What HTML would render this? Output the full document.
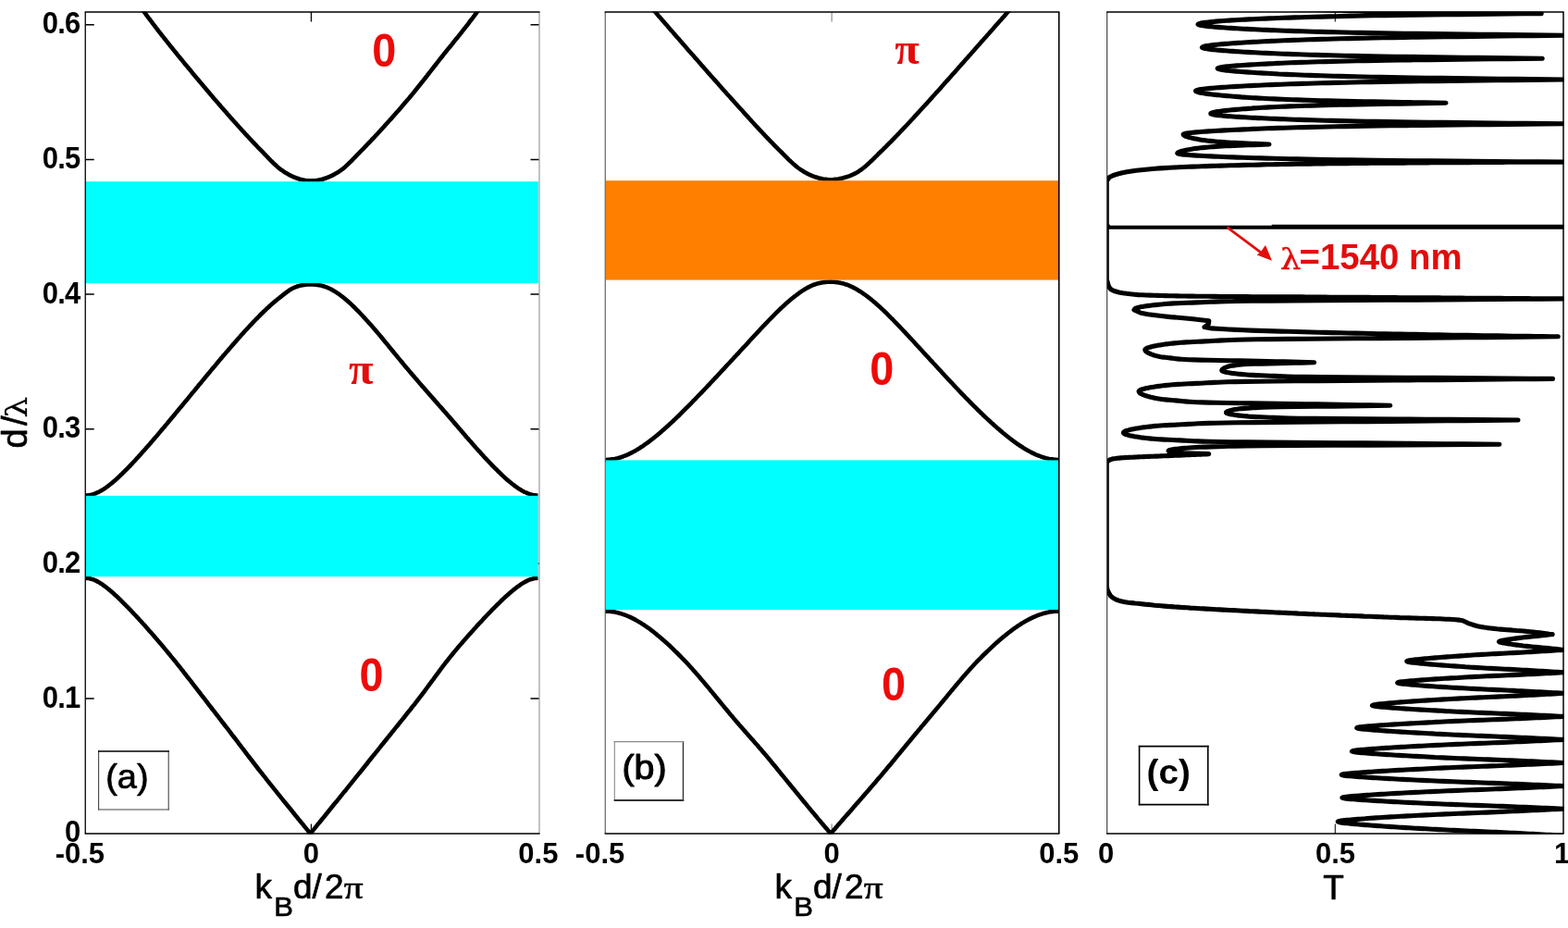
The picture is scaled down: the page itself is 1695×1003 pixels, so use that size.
<!DOCTYPE html>
<html lang="en"><head><meta charset="utf-8"><title>Band structure and transmission</title>
<style>html,body{margin:0;padding:0;background:#fff;overflow:hidden}svg{display:block}</style></head>
<body>
<svg width="1695" height="1003" viewBox="0 0 1695 1003" role="img" aria-label="Band structures (a), (b) and transmission spectrum (c)">
<defs>
<clipPath id="clipa"><rect x="91.75" y="12.5" width="491.75" height="889.0"/></clipPath>
<clipPath id="clipb"><rect x="653.75" y="12.5" width="491.5" height="889.0"/></clipPath>
<clipPath id="clipc"><rect x="1196.2" y="12.5" width="494.29999999999995" height="889.0"/></clipPath>
</defs>
<rect width="1695" height="1003" fill="#fff"/>
<path d="M92.25,755h9.5M583.0,755h-9.5" stroke="#000" stroke-width="1.5" fill="none"/>
<path d="M92.25,609.3h9.5M583.0,609.3h-9.5" stroke="#000" stroke-width="1.5" fill="none"/>
<path d="M92.25,463.7h9.5M583.0,463.7h-9.5" stroke="#000" stroke-width="1.5" fill="none"/>
<path d="M92.25,318h9.5M583.0,318h-9.5" stroke="#000" stroke-width="1.5" fill="none"/>
<path d="M92.25,172.4h9.5M583.0,172.4h-9.5" stroke="#000" stroke-width="1.5" fill="none"/>
<path d="M92.25,26.8h9.5M583.0,26.8h-9.5" stroke="#000" stroke-width="1.5" fill="none"/>
<path d="M336.4,901.0v-10.5M336.4,13.0v10.5" stroke="#000" stroke-width="1.2" fill="none"/>
<g clip-path="url(#clipa)" stroke="#000" stroke-width="4.6" fill="none" stroke-linejoin="round">
<path d="M92.5,624.8 L94,624.9 L95.5,625 L97,625.3 L98.5,625.7 L100,626.1 L101.5,626.7 L103.1,627.3 L104.6,628.1 L106.1,628.9 L107.6,629.8 L109.1,630.7 L110.6,631.7 L112.1,632.8 L113.6,633.9 L115.1,635 L116.6,636.2 L118.1,637.4 L119.6,638.7 L121.1,640 L122.6,641.3 L124.1,642.7 L125.6,644 L127.1,645.4 L128.6,646.9 L130.1,648.3 L131.6,649.8 L133.1,651.3 L134.6,652.8 L136.1,654.3 L137.6,655.8 L139.1,657.4 L140.6,658.9 L142.1,660.5 L143.6,662.1 L145.1,663.7 L146.6,665.3 L148.1,666.9 L149.6,668.5 L151.1,670.2 L152.6,671.8 L154.1,673.5 L155.6,675.1 L157.1,676.8 L158.6,678.5 L160.1,680.2 L161.6,681.9 L163.1,683.6 L164.6,685.3 L166.1,687 L167.6,688.8 L169.1,690.5 L170.6,692.3 L172.1,694 L173.6,695.8 L175.1,697.5 L176.6,699.3 L178.1,701.1 L179.6,702.9 L181.1,704.7 L182.6,706.5 L184.1,708.3 L185.5,710.1 L187,711.9 L188.5,713.7 L190,715.5 L191.4,717.4 L192.9,719.2 L194.4,721 L195.8,722.9 L197.3,724.7 L198.7,726.6 L200.2,728.5 L201.6,730.3 L203.1,732.2 L204.6,734.1 L206,735.9 L207.5,737.8 L208.9,739.7 L210.4,741.6 L211.9,743.5 L213.3,745.4 L214.8,747.3 L216.3,749.2 L217.7,751.1 L219.2,753 L220.7,754.9 L222.2,756.8 L223.6,758.7 L225.1,760.7 L226.6,762.6 L228.1,764.5 L229.6,766.5 L231.1,768.4 L232.6,770.3 L234.1,772.3 L235.6,774.2 L237.1,776.2 L238.6,778.1 L240.1,780.1 L241.6,782 L243.1,784 L244.6,785.9 L246.2,787.9 L247.7,789.9 L249.2,791.8 L250.7,793.8 L252.2,795.8 L253.7,797.7 L255.2,799.7 L256.7,801.7 L258.2,803.7 L259.7,805.6 L261.2,807.6 L262.8,809.6 L264.3,811.6 L265.8,813.6 L267.3,815.6 L268.8,817.5 L270.3,819.5 L271.9,821.5 L273.4,823.5 L274.9,825.5 L276.5,827.5 L278,829.5 L279.5,831.5 L281.1,833.5 L282.7,835.4 L284.2,837.4 L285.8,839.4 L287.4,841.4 L288.9,843.4 L290.5,845.4 L292.1,847.4 L293.7,849.4 L295.3,851.4 L296.9,853.4 L298.5,855.4 L300.1,857.4 L301.7,859.4 L303.3,861.4 L304.9,863.4 L306.5,865.4 L308.1,867.3 L309.7,869.3 L311.3,871.3 L313,873.3 L314.6,875.3 L316.2,877.3 L317.8,879.3 L319.4,881.3 L321,883.2 L322.6,885.2 L324.3,887.2 L325.9,889.2 L327.5,891.1 L329.1,893.1 L330.7,895.1 L332.3,897.1 L333.9,899 L335.5,901 L337.1,899 L338.7,897.1 L340.3,895.1 L341.9,893.1 L343.5,891.1 L345.1,889.2 L346.7,887.2 L348.3,885.2 L350,883.2 L351.6,881.3 L353.2,879.3 L354.8,877.3 L356.4,875.3 L358,873.3 L359.6,871.3 L361.2,869.3 L362.9,867.3 L364.5,865.4 L366.1,863.4 L367.7,861.4 L369.3,859.4 L370.9,857.4 L372.5,855.4 L374.2,853.4 L375.8,851.4 L377.4,849.4 L379,847.4 L380.6,845.4 L382.2,843.4 L383.8,841.4 L385.4,839.4 L387,837.4 L388.6,835.4 L390.2,833.5 L391.8,831.5 L393.4,829.5 L395,827.5 L396.6,825.5 L398.1,823.5 L399.7,821.5 L401.3,819.5 L402.9,817.5 L404.5,815.6 L406.1,813.6 L407.7,811.6 L409.3,809.6 L410.9,807.6 L412.4,805.6 L414,803.7 L415.6,801.7 L417.2,799.7 L418.8,797.7 L420.4,795.8 L422,793.8 L423.5,791.8 L425.1,789.9 L426.7,787.9 L428.3,785.9 L429.9,784 L431.4,782 L433,780.1 L434.6,778.1 L436.1,776.2 L437.7,774.2 L439.2,772.3 L440.8,770.3 L442.3,768.4 L443.9,766.5 L445.4,764.5 L447,762.6 L448.5,760.7 L450,758.7 L451.5,756.8 L452.9,754.9 L454.4,753 L455.8,751.1 L457.3,749.2 L458.7,747.3 L460.1,745.4 L461.5,743.5 L462.9,741.6 L464.3,739.7 L465.7,737.8 L467.1,735.9 L468.5,734.1 L469.8,732.2 L471.2,730.3 L472.6,728.5 L474,726.6 L475.4,724.7 L476.7,722.9 L478.1,721 L479.5,719.2 L480.9,717.4 L482.3,715.5 L483.8,713.7 L485.2,711.9 L486.6,710.1 L488.1,708.3 L489.5,706.5 L491,704.7 L492.5,702.9 L494,701.1 L495.5,699.3 L497.1,697.5 L498.6,695.8 L500.1,694 L501.6,692.3 L503.2,690.5 L504.7,688.8 L506.2,687 L507.7,685.3 L509.3,683.6 L510.8,681.9 L512.3,680.2 L513.9,678.5 L515.4,676.8 L516.9,675.1 L518.4,673.5 L520,671.8 L521.5,670.2 L523,668.5 L524.6,666.9 L526.1,665.3 L527.6,663.7 L529.2,662.1 L530.7,660.5 L532.2,658.9 L533.8,657.4 L535.3,655.8 L536.8,654.3 L538.4,652.8 L539.9,651.3 L541.4,649.8 L543,648.3 L544.5,646.9 L546,645.4 L547.6,644 L549.1,642.7 L550.7,641.3 L552.2,640 L553.7,638.7 L555.3,637.4 L556.8,636.2 L558.3,635 L559.9,633.9 L561.4,632.8 L563,631.7 L564.5,630.7 L566.1,629.8 L567.6,628.9 L569.1,628.1 L570.7,627.3 L572.2,626.7 L573.8,626.1 L575.3,625.7 L576.9,625.3 L578.4,625 L580,624.9 L581.5,624.8"/>
<path d="M92.5,535.5 L94,535.5 L95.5,535.3 L97,535.1 L98.6,534.8 L100.1,534.4 L101.6,533.9 L103.1,533.4 L104.6,532.7 L106.1,532 L107.6,531.3 L109.1,530.4 L110.7,529.5 L112.2,528.6 L113.7,527.6 L115.2,526.5 L116.7,525.4 L118.2,524.2 L119.7,523 L121.3,521.8 L122.8,520.5 L124.3,519.2 L125.8,517.9 L127.3,516.5 L128.8,515.1 L130.3,513.6 L131.9,512.2 L133.4,510.7 L134.9,509.2 L136.4,507.7 L137.9,506.1 L139.4,504.6 L141,503 L142.5,501.4 L144,499.8 L145.5,498.2 L147,496.5 L148.5,494.9 L150,493.2 L151.6,491.5 L153.1,489.8 L154.6,488.1 L156.1,486.4 L157.6,484.7 L159.1,483 L160.7,481.2 L162.2,479.5 L163.7,477.7 L165.2,476 L166.7,474.2 L168.2,472.5 L169.8,470.7 L171.3,468.9 L172.8,467.1 L174.3,465.3 L175.8,463.5 L177.4,461.7 L178.9,459.9 L180.4,458.1 L181.9,456.3 L183.4,454.5 L184.9,452.6 L186.5,450.8 L188,449 L189.5,447.1 L191,445.3 L192.5,443.5 L194.1,441.6 L195.6,439.8 L197.1,438 L198.6,436.1 L200.1,434.3 L201.7,432.4 L203.2,430.6 L204.7,428.7 L206.2,426.9 L207.7,425 L209.3,423.2 L210.8,421.4 L212.3,419.5 L213.8,417.7 L215.3,415.8 L216.9,414 L218.4,412.1 L219.9,410.3 L221.4,408.5 L222.9,406.6 L224.5,404.8 L226,403 L227.5,401.1 L229,399.3 L230.5,397.5 L232.1,395.7 L233.6,393.9 L235.1,392 L236.6,390.2 L238.1,388.4 L239.7,386.6 L241.2,384.8 L242.7,383.1 L244.2,381.3 L245.8,379.5 L247.3,377.7 L248.8,376 L250.3,374.2 L251.9,372.4 L253.4,370.7 L254.9,369 L256.4,367.2 L257.9,365.5 L259.5,363.8 L261,362.1 L262.5,360.4 L264,358.7 L265.6,357 L267.1,355.4 L268.6,353.7 L270.1,352.1 L271.7,350.5 L273.2,348.9 L274.7,347.3 L276.2,345.7 L277.8,344.1 L279.3,342.6 L280.8,341 L282.3,339.5 L283.9,338 L285.4,336.5 L286.9,335.1 L288.4,333.6 L290,332.2 L291.5,330.8 L293,329.4 L294.5,328.1 L296.1,326.8 L297.6,325.5 L299.1,324.2 L300.6,323 L302.2,321.8 L303.7,320.6 L305.1,319.5 L306.5,318.4 L307.8,317.4 L309.1,316.4 L310.4,315.4 L311.7,314.5 L312.9,313.6 L314.3,312.8 L315.6,312 L317,311.3 L318.5,310.7 L320,310.1 L321.6,309.5 L323.3,309 L325,308.6 L326.8,308.2 L328.6,307.9 L330.4,307.7 L332.2,307.5 L334,307.4 L335.8,307.4 L337.5,307.4 L339.4,307.5 L341.2,307.7 L343.1,307.9 L344.9,308.2 L346.8,308.6 L348.6,309 L350.3,309.5 L352,310.1 L353.5,310.7 L355.1,311.3 L356.6,312 L358.1,312.8 L359.6,313.6 L361.1,314.5 L362.6,315.4 L364.1,316.4 L365.6,317.4 L367.1,318.4 L368.5,319.5 L370,320.6 L371.5,321.8 L373,323 L374.4,324.2 L375.9,325.5 L377.3,326.8 L378.8,328.1 L380.2,329.4 L381.6,330.8 L383.1,332.2 L384.5,333.6 L385.9,335.1 L387.4,336.5 L388.8,338 L390.2,339.5 L391.6,341 L393.1,342.6 L394.5,344.1 L395.9,345.7 L397.4,347.3 L398.8,348.9 L400.3,350.5 L401.7,352.1 L403.1,353.7 L404.6,355.4 L406,357 L407.4,358.7 L408.8,360.4 L410.2,362.1 L411.7,363.8 L413.1,365.5 L414.5,367.2 L415.9,369 L417.4,370.7 L418.8,372.4 L420.2,374.2 L421.7,376 L423.1,377.7 L424.6,379.5 L426,381.3 L427.5,383.1 L428.9,384.8 L430.4,386.6 L431.9,388.4 L433.4,390.2 L434.9,392 L436.4,393.9 L437.9,395.7 L439.4,397.5 L441,399.3 L442.5,401.1 L444.1,403 L445.6,404.8 L447.2,406.6 L448.8,408.5 L450.4,410.3 L451.9,412.1 L453.5,414 L455.1,415.8 L456.7,417.7 L458.4,419.5 L460,421.4 L461.6,423.2 L463.2,425 L464.8,426.9 L466.4,428.7 L468.1,430.6 L469.7,432.4 L471.3,434.3 L472.9,436.1 L474.5,438 L476.2,439.8 L477.8,441.6 L479.4,443.5 L481,445.3 L482.6,447.1 L484.2,449 L485.8,450.8 L487.4,452.6 L489,454.5 L490.5,456.3 L492.1,458.1 L493.7,459.9 L495.2,461.7 L496.7,463.5 L498.3,465.3 L499.8,467.1 L501.4,468.9 L502.9,470.7 L504.4,472.5 L506,474.2 L507.5,476 L509.1,477.7 L510.6,479.5 L512.1,481.2 L513.7,483 L515.2,484.7 L516.7,486.4 L518.3,488.1 L519.8,489.8 L521.4,491.5 L522.9,493.2 L524.4,494.9 L526,496.5 L527.5,498.2 L529.1,499.8 L530.6,501.4 L532.1,503 L533.7,504.6 L535.2,506.1 L536.8,507.7 L538.3,509.2 L539.9,510.7 L541.4,512.2 L542.9,513.6 L544.5,515.1 L546,516.5 L547.6,517.9 L549.1,519.2 L550.6,520.5 L552.2,521.8 L553.7,523 L555.3,524.2 L556.8,525.4 L558.4,526.5 L559.9,527.6 L561.4,528.6 L563,529.5 L564.5,530.4 L566.1,531.3 L567.6,532 L569.2,532.7 L570.7,533.4 L572.2,533.9 L573.8,534.4 L575.3,534.8 L576.9,535.1 L578.4,535.3 L580,535.5 L581.5,535.5"/>
<path d="M131.8,-39.2 L133,-36 L134.3,-34.2 L135.6,-37.3 L136.9,-51.8 L138.1,-15.5 L139.4,-13 L140.7,-10.6 L141.9,-8.3 L143.2,-6.2 L144.5,-4.1 L145.7,-2 L147,-0 L148.3,1.9 L149.6,3.8 L150.8,5.7 L152.1,7.5 L153.4,9.3 L154.6,11.1 L155.9,12.9 L157.2,14.7 L158.4,16.4 L159.7,18.1 L161,19.8 L162.3,21.5 L163.5,23.2 L164.8,24.9 L166.1,26.6 L167.3,28.2 L168.6,29.9 L169.9,31.5 L171.1,33.1 L172.4,34.8 L173.7,36.4 L174.9,38 L176.2,39.6 L177.5,41.2 L178.7,42.8 L180,44.4 L181.3,46 L182.6,47.6 L183.8,49.2 L185.1,50.8 L186.4,52.3 L187.6,53.9 L188.9,55.5 L190.2,57 L191.4,58.6 L192.7,60.2 L194,61.7 L195.2,63.3 L196.5,64.8 L197.8,66.4 L199,67.9 L200.3,69.5 L201.6,71 L202.9,72.5 L204.1,74.1 L205.4,75.6 L206.7,77.1 L207.9,78.7 L209.2,80.2 L210.5,81.7 L211.7,83.2 L213,84.7 L214.3,86.2 L215.5,87.8 L216.8,89.3 L218.1,90.8 L219.3,92.3 L220.6,93.8 L221.9,95.3 L223.1,96.8 L224.4,98.3 L225.7,99.8 L226.9,101.2 L228.2,102.7 L229.5,104.2 L230.7,105.7 L232,107.2 L233.3,108.6 L234.5,110.1 L235.8,111.6 L237.1,113 L238.3,114.5 L239.6,116 L240.9,117.4 L242.1,118.9 L243.4,120.3 L244.7,121.7 L245.9,123.2 L247.2,124.6 L248.5,126 L249.7,127.5 L251,128.9 L252.2,130.3 L253.5,131.7 L254.8,133.1 L256,134.5 L257.3,135.9 L258.5,137.3 L259.8,138.7 L261,140.1 L262.3,141.5 L263.6,142.9 L264.8,144.2 L266.1,145.6 L267.3,146.9 L268.6,148.3 L269.8,149.6 L271.1,150.9 L272.3,152.3 L273.6,153.6 L274.8,154.9 L276,156.2 L277.3,157.5 L278.5,158.8 L279.8,160.1 L281,161.3 L282.3,162.6 L283.5,163.8 L284.7,165.1 L285.8,166.3 L287,167.5 L288.1,168.7 L289.3,169.9 L290.4,171.1 L291.5,172.2 L292.6,173.4 L293.8,174.5 L294.9,175.6 L296,176.7 L297.2,177.8 L298.3,178.8 L299.5,179.9 L300.7,180.9 L301.9,181.9 L303.1,182.9 L304.4,183.8 L305.7,184.7 L307,185.6 L308.3,186.5 L309.7,187.3 L311.1,188.1 L312.5,188.9 L313.9,189.6 L315.4,190.3 L316.8,191 L318.3,191.6 L319.8,192.2 L321.3,192.7 L322.8,193.2 L324.3,193.7 L325.8,194.1 L327.3,194.4 L328.8,194.7 L330.3,195 L331.8,195.2 L333.3,195.3 L334.8,195.4 L336.2,195.4 L337.7,195.4 L339.2,195.3 L340.7,195.2 L342.3,195 L343.8,194.7 L345.4,194.4 L346.9,194.1 L348.5,193.7 L350,193.2 L351.6,192.7 L353.1,192.2 L354.6,191.6 L356.1,191 L357.6,190.3 L359.1,189.6 L360.6,188.9 L362,188.1 L363.4,187.3 L364.8,186.5 L366.2,185.6 L367.5,184.7 L368.7,183.8 L370,182.9 L371.2,181.9 L372.4,180.9 L373.6,179.9 L374.7,178.8 L375.9,177.8 L377,176.7 L378.1,175.6 L379.3,174.5 L380.4,173.4 L381.5,172.2 L382.6,171.1 L383.8,169.9 L384.9,168.7 L386.1,167.5 L387.2,166.3 L388.4,165.1 L389.6,163.8 L390.8,162.6 L392.1,161.3 L393.3,160.1 L394.5,158.8 L395.8,157.5 L397,156.2 L398.3,154.9 L399.5,153.6 L400.8,152.3 L402.1,150.9 L403.3,149.6 L404.6,148.3 L405.8,146.9 L407.1,145.6 L408.4,144.2 L409.6,142.9 L410.9,141.5 L412.1,140.1 L413.4,138.7 L414.7,137.3 L415.9,135.9 L417.2,134.5 L418.5,133.1 L419.7,131.7 L421,130.3 L422.3,128.9 L423.6,127.5 L424.8,126 L426.1,124.6 L427.3,123.2 L428.6,121.7 L429.9,120.3 L431.1,118.9 L432.4,117.4 L433.7,116 L434.9,114.5 L436.2,113 L437.4,111.6 L438.7,110.1 L439.9,108.6 L441.2,107.2 L442.5,105.7 L443.7,104.2 L444.9,102.7 L446.2,101.2 L447.4,99.8 L448.6,98.3 L449.8,96.8 L451,95.3 L452.2,93.8 L453.4,92.3 L454.6,90.8 L455.8,89.3 L457,87.8 L458.2,86.2 L459.4,84.7 L460.6,83.2 L461.8,81.7 L462.9,80.2 L464.1,78.7 L465.3,77.1 L466.5,75.6 L467.7,74.1 L468.9,72.5 L470.1,71 L471.3,69.5 L472.5,67.9 L473.7,66.4 L474.9,64.8 L476.1,63.3 L477.4,61.7 L478.6,60.2 L479.8,58.6 L481.1,57 L482.3,55.5 L483.6,53.9 L484.9,52.3 L486.2,50.8 L487.5,49.2 L488.8,47.6 L490,46 L491.3,44.4 L492.6,42.8 L493.9,41.2 L495.2,39.6 L496.5,38 L497.8,36.4 L499,34.8 L500.3,33.1 L501.6,31.5 L502.9,29.9 L504.2,28.2 L505.5,26.6 L506.8,24.9 L508,23.2 L509.3,21.5 L510.6,19.8 L511.9,18.1 L513.2,16.4 L514.5,14.7 L515.8,12.9 L517.1,11.1 L518.3,9.3 L519.6,7.5 L520.9,5.7 L522.2,3.8 L523.5,1.9 L524.8,-0 L526.1,-2 L527.3,-4.1 L528.6,-6.2 L529.9,-8.3 L531.2,-10.6 L532.5,-13 L533.8,-15.5 L535.1,-51.8 L536.4,-37.3 L537.6,-34.2 L538.9,-36 L540.2,-39.2"/>
</g>
<rect x="92.8" y="196.2" width="489" height="109.9" fill="#00ffff"/>
<rect x="92.8" y="535.8" width="489" height="87.4" fill="#00ffff"/>
<path d="M92.25,901.0V13.0" stroke="#000" stroke-width="1.3" fill="none"/>
<path d="M583.0,13.0V901.0" stroke="#999" stroke-width="1.2" fill="none"/>
<path d="M91.65,13.0H583.6M91.65,901.0H583.6" stroke="#000" stroke-width="1.3" fill="none"/>
<path d="M899.1,901.0v-10.5M899.1,13.0v10.5" stroke="#777" stroke-width="1.0" fill="none"/>
<g clip-path="url(#clipb)" stroke="#000" stroke-width="4.6" fill="none" stroke-linejoin="round">
<path d="M654.2,660.6 L655.8,660.6 L657.3,660.7 L658.8,660.8 L660.3,660.9 L661.8,661.1 L663.3,661.3 L664.8,661.6 L666.4,661.9 L667.9,662.3 L669.4,662.7 L670.9,663.1 L672.4,663.6 L673.9,664.1 L675.4,664.6 L676.9,665.2 L678.4,665.8 L680,666.5 L681.5,667.1 L683,667.9 L684.5,668.6 L686,669.4 L687.5,670.2 L689,671.1 L690.5,672 L692,672.9 L693.5,673.8 L695,674.8 L696.6,675.8 L698.1,676.8 L699.6,677.9 L701.1,678.9 L702.6,680 L704.1,681.2 L705.6,682.3 L707.1,683.5 L708.6,684.7 L710.1,685.9 L711.6,687.2 L713.1,688.4 L714.6,689.7 L716.1,691 L717.6,692.3 L719.2,693.7 L720.7,695 L722.2,696.4 L723.7,697.8 L725.2,699.2 L726.7,700.6 L728.2,702.1 L729.7,703.6 L731.2,705 L732.7,706.5 L734.2,708 L735.7,709.5 L737.2,711.1 L738.7,712.6 L740.2,714.2 L741.7,715.7 L743.2,717.3 L744.7,718.9 L746.1,720.5 L747.6,722.1 L749,723.7 L750.5,725.4 L751.9,727 L753.4,728.7 L754.8,730.3 L756.3,732 L757.7,733.7 L759.1,735.4 L760.6,737.1 L762,738.8 L763.4,740.5 L764.9,742.2 L766.3,743.9 L767.7,745.7 L769.2,747.4 L770.6,749.2 L772.1,750.9 L773.5,752.7 L775,754.5 L776.4,756.2 L777.9,758 L779.3,759.8 L780.8,761.6 L782.3,763.4 L783.8,765.2 L785.3,767 L786.8,768.8 L788.3,770.6 L789.8,772.5 L791.4,774.3 L792.9,776.1 L794.5,778 L796,779.8 L797.6,781.6 L799.2,783.5 L800.9,785.3 L802.5,787.2 L804.1,789 L805.7,790.9 L807.4,792.8 L809,794.6 L810.7,796.5 L812.3,798.4 L814,800.2 L815.6,802.1 L817.3,804 L818.9,805.8 L820.5,807.7 L822.2,809.6 L823.8,811.5 L825.4,813.4 L827,815.2 L828.6,817.1 L830.2,819 L831.8,820.9 L833.3,822.8 L834.9,824.7 L836.4,826.6 L838,828.4 L839.5,830.3 L841,832.2 L842.6,834.1 L844.1,836 L845.7,837.9 L847.2,839.8 L848.7,841.6 L850.3,843.5 L851.8,845.4 L853.4,847.3 L854.9,849.2 L856.4,851.1 L858,852.9 L859.5,854.8 L861,856.7 L862.6,858.6 L864.1,860.4 L865.6,862.3 L867.2,864.2 L868.7,866.1 L870.3,867.9 L871.8,869.8 L873.3,871.6 L874.9,873.5 L876.4,875.4 L877.9,877.2 L879.5,879.1 L881,880.9 L882.6,882.7 L884.1,884.6 L885.6,886.4 L887.2,888.3 L888.7,890.1 L890.3,891.9 L891.8,893.7 L893.4,895.6 L894.9,897.4 L896.5,899.2 L898,901 L899.6,899.2 L901.1,897.4 L902.7,895.6 L904.3,893.7 L905.8,891.9 L907.4,890.1 L909,888.3 L910.6,886.4 L912.2,884.6 L913.8,882.7 L915.4,880.9 L917,879.1 L918.7,877.2 L920.3,875.4 L921.9,873.5 L923.5,871.6 L925.1,869.8 L926.8,867.9 L928.4,866.1 L930,864.2 L931.7,862.3 L933.3,860.4 L934.9,858.6 L936.5,856.7 L938.2,854.8 L939.8,852.9 L941.4,851.1 L943,849.2 L944.7,847.3 L946.3,845.4 L947.9,843.5 L949.5,841.6 L951.1,839.8 L952.7,837.9 L954.3,836 L955.9,834.1 L957.5,832.2 L959,830.3 L960.6,828.4 L962.2,826.6 L963.7,824.7 L965.3,822.8 L966.9,820.9 L968.4,819 L970,817.1 L971.5,815.2 L973.1,813.4 L974.6,811.5 L976.2,809.6 L977.7,807.7 L979.3,805.8 L980.8,804 L982.4,802.1 L983.9,800.2 L985.5,798.4 L987,796.5 L988.6,794.6 L990.1,792.8 L991.7,790.9 L993.2,789 L994.8,787.2 L996.3,785.3 L997.9,783.5 L999.4,781.6 L1001,779.8 L1002.5,778 L1004.1,776.1 L1005.6,774.3 L1007.1,772.5 L1008.7,770.6 L1010.2,768.8 L1011.7,767 L1013.2,765.2 L1014.7,763.4 L1016.2,761.6 L1017.7,759.8 L1019.2,758 L1020.6,756.2 L1022.1,754.5 L1023.6,752.7 L1025,750.9 L1026.4,749.2 L1027.9,747.4 L1029.3,745.7 L1030.8,743.9 L1032.2,742.2 L1033.6,740.5 L1035.1,738.8 L1036.5,737.1 L1038,735.4 L1039.4,733.7 L1040.8,732 L1042.3,730.3 L1043.7,728.7 L1045.2,727 L1046.6,725.4 L1048.1,723.7 L1049.6,722.1 L1051.1,720.5 L1052.5,718.9 L1054,717.3 L1055.5,715.7 L1057,714.2 L1058.6,712.6 L1060.1,711.1 L1061.6,709.5 L1063.1,708 L1064.7,706.5 L1066.2,705 L1067.7,703.6 L1069.3,702.1 L1070.8,700.6 L1072.3,699.2 L1073.9,697.8 L1075.4,696.4 L1076.9,695 L1078.4,693.7 L1080,692.3 L1081.5,691 L1083,689.7 L1084.6,688.4 L1086.1,687.2 L1087.7,685.9 L1089.2,684.7 L1090.7,683.5 L1092.3,682.3 L1093.8,681.2 L1095.3,680 L1096.9,678.9 L1098.4,677.9 L1099.9,676.8 L1101.5,675.8 L1103,674.8 L1104.6,673.8 L1106.1,672.9 L1107.6,672 L1109.2,671.1 L1110.7,670.2 L1112.3,669.4 L1113.8,668.6 L1115.4,667.9 L1116.9,667.1 L1118.4,666.5 L1120,665.8 L1121.5,665.2 L1123.1,664.6 L1124.6,664.1 L1126.2,663.6 L1127.7,663.1 L1129.3,662.7 L1130.8,662.3 L1132.4,661.9 L1133.9,661.6 L1135.5,661.3 L1137,661.1 L1138.5,660.9 L1140.1,660.8 L1141.6,660.7 L1143.2,660.6 L1144.8,660.6"/>
<path d="M654.3,497 L655.8,497 L657.3,496.9 L658.8,496.8 L660.3,496.6 L661.9,496.4 L663.4,496.2 L664.9,495.9 L666.4,495.5 L667.9,495.2 L669.5,494.7 L671,494.3 L672.5,493.8 L674,493.2 L675.5,492.6 L677.1,492 L678.6,491.3 L680.1,490.6 L681.6,489.9 L683.1,489.1 L684.7,488.3 L686.2,487.5 L687.7,486.6 L689.2,485.7 L690.7,484.8 L692.2,483.8 L693.8,482.8 L695.3,481.8 L696.8,480.7 L698.3,479.7 L699.8,478.6 L701.4,477.5 L702.9,476.3 L704.4,475.1 L705.9,474 L707.4,472.7 L708.9,471.5 L710.5,470.3 L712,469 L713.5,467.7 L715,466.4 L716.5,465.1 L718.1,463.8 L719.6,462.4 L721.1,461 L722.6,459.7 L724.1,458.3 L725.6,456.9 L727.2,455.5 L728.7,454 L730.2,452.6 L731.7,451.1 L733.2,449.7 L734.8,448.2 L736.3,446.7 L737.8,445.2 L739.3,443.7 L740.8,442.2 L742.3,440.7 L743.9,439.1 L745.4,437.6 L746.9,436.1 L748.4,434.5 L749.9,432.9 L751.5,431.4 L753,429.8 L754.5,428.2 L756,426.7 L757.5,425.1 L759.1,423.5 L760.6,421.9 L762.1,420.3 L763.6,418.7 L765.1,417.1 L766.7,415.5 L768.2,413.8 L769.7,412.2 L771.2,410.6 L772.7,409 L774.3,407.4 L775.8,405.7 L777.3,404.1 L778.8,402.5 L780.3,400.8 L781.9,399.2 L783.4,397.6 L784.9,395.9 L786.4,394.3 L787.9,392.7 L789.5,391 L791,389.4 L792.5,387.8 L794,386.1 L795.5,384.5 L797,382.9 L798.6,381.3 L800.1,379.6 L801.5,378 L803,376.4 L804.5,374.8 L806,373.2 L807.5,371.6 L809,369.9 L810.4,368.3 L811.9,366.7 L813.4,365.2 L814.8,363.6 L816.3,362 L817.8,360.4 L819.2,358.8 L820.7,357.3 L822.1,355.7 L823.6,354.2 L825,352.6 L826.5,351.1 L827.9,349.6 L829.4,348.1 L830.9,346.5 L832.3,345 L833.8,343.6 L835.2,342.1 L836.7,340.6 L838.1,339.2 L839.6,337.7 L841,336.3 L842.5,334.9 L843.9,333.5 L845.4,332.1 L846.9,330.8 L848.3,329.4 L849.8,328.1 L851.3,326.8 L852.8,325.5 L854.2,324.3 L855.7,323 L857.2,321.8 L858.7,320.6 L860.2,319.5 L861.7,318.4 L863.1,317.3 L864.6,316.2 L866.1,315.2 L867.6,314.2 L869.1,313.2 L870.6,312.3 L872.1,311.4 L873.6,310.6 L875.1,309.8 L876.6,309.1 L878.2,308.4 L879.8,307.7 L881.4,307.2 L883.2,306.6 L884.9,306.2 L886.7,305.8 L888.5,305.4 L890.3,305.1 L892.1,304.9 L893.9,304.7 L895.7,304.6 L897.5,304.6 L899.3,304.6 L901.1,304.7 L902.9,304.9 L904.8,305.1 L906.6,305.4 L908.5,305.8 L910.3,306.2 L912.1,306.6 L913.9,307.2 L915.6,307.7 L917.3,308.4 L918.9,309.1 L920.5,309.8 L922.1,310.6 L923.7,311.4 L925.3,312.3 L926.9,313.2 L928.5,314.2 L930.1,315.2 L931.6,316.2 L933.2,317.3 L934.8,318.4 L936.3,319.5 L937.8,320.6 L939.4,321.8 L940.9,323 L942.4,324.3 L943.9,325.5 L945.4,326.8 L946.9,328.1 L948.4,329.4 L949.9,330.8 L951.4,332.1 L952.9,333.5 L954.4,334.9 L955.9,336.3 L957.4,337.7 L958.9,339.2 L960.3,340.6 L961.8,342.1 L963.3,343.6 L964.8,345 L966.2,346.5 L967.7,348.1 L969.2,349.6 L970.6,351.1 L972.1,352.6 L973.6,354.2 L975,355.7 L976.5,357.3 L978,358.8 L979.4,360.4 L980.9,362 L982.4,363.6 L983.8,365.2 L985.3,366.7 L986.8,368.3 L988.3,369.9 L989.7,371.6 L991.2,373.2 L992.7,374.8 L994.2,376.4 L995.7,378 L997.2,379.6 L998.6,381.3 L1000.1,382.9 L1001.6,384.5 L1003.1,386.1 L1004.6,387.8 L1006.1,389.4 L1007.7,391 L1009.2,392.7 L1010.7,394.3 L1012.2,395.9 L1013.7,397.6 L1015.2,399.2 L1016.7,400.8 L1018.2,402.5 L1019.7,404.1 L1021.2,405.7 L1022.7,407.4 L1024.2,409 L1025.7,410.6 L1027.2,412.2 L1028.8,413.8 L1030.3,415.5 L1031.8,417.1 L1033.3,418.7 L1034.8,420.3 L1036.3,421.9 L1037.8,423.5 L1039.4,425.1 L1040.9,426.7 L1042.4,428.2 L1043.9,429.8 L1045.5,431.4 L1047,432.9 L1048.5,434.5 L1050.1,436.1 L1051.6,437.6 L1053.1,439.1 L1054.7,440.7 L1056.2,442.2 L1057.8,443.7 L1059.3,445.2 L1060.9,446.7 L1062.4,448.2 L1064,449.7 L1065.5,451.1 L1067.1,452.6 L1068.6,454 L1070.2,455.5 L1071.7,456.9 L1073.3,458.3 L1074.8,459.7 L1076.4,461 L1077.9,462.4 L1079.5,463.8 L1081,465.1 L1082.6,466.4 L1084.1,467.7 L1085.7,469 L1087.2,470.3 L1088.8,471.5 L1090.3,472.7 L1091.9,474 L1093.4,475.1 L1095,476.3 L1096.5,477.5 L1098.1,478.6 L1099.6,479.7 L1101.2,480.7 L1102.7,481.8 L1104.3,482.8 L1105.9,483.8 L1107.4,484.8 L1109,485.7 L1110.5,486.6 L1112.1,487.5 L1113.6,488.3 L1115.2,489.1 L1116.7,489.9 L1118.3,490.6 L1119.8,491.3 L1121.4,492 L1123,492.6 L1124.5,493.2 L1126.1,493.8 L1127.6,494.3 L1129.2,494.7 L1130.7,495.2 L1132.3,495.5 L1133.8,495.9 L1135.4,496.2 L1137,496.4 L1138.5,496.6 L1140.1,496.8 L1141.6,496.9 L1143.2,497 L1144.8,497"/>
<path d="M672.5,-40.3 L673.8,-39.3 L675.2,-41.6 L676.6,-27.1 L678,-26.2 L679.4,-23.5 L680.8,-27 L682.2,-18.7 L683.6,-16.8 L685,-14.9 L686.4,-13.1 L687.8,-11.3 L689.2,-9.6 L690.6,-7.9 L692,-6.2 L693.4,-4.5 L694.8,-2.8 L696.2,-1.1 L697.6,0.5 L699,2.2 L700.4,3.8 L701.9,5.5 L703.3,7.1 L704.7,8.7 L706.1,10.4 L707.5,12 L708.9,13.6 L710.3,15.2 L711.7,16.9 L713.1,18.5 L714.5,20.1 L715.9,21.7 L717.3,23.3 L718.7,24.9 L720.1,26.5 L721.5,28.1 L722.9,29.8 L724.3,31.4 L725.7,33 L727.1,34.6 L728.5,36.2 L729.9,37.8 L731.3,39.4 L732.7,41 L734.1,42.6 L735.5,44.2 L736.9,45.8 L738.3,47.4 L739.7,49 L741.1,50.6 L742.5,52.3 L743.9,53.9 L745.3,55.5 L746.7,57.1 L748.2,58.7 L749.6,60.3 L751,61.9 L752.4,63.5 L753.8,65.1 L755.2,66.7 L756.6,68.3 L758,69.9 L759.4,71.5 L760.8,73.1 L762.2,74.7 L763.6,76.3 L765,77.9 L766.4,79.5 L767.8,81.1 L769.2,82.7 L770.7,84.3 L772.1,85.9 L773.5,87.4 L774.9,89 L776.3,90.6 L777.7,92.2 L779.1,93.8 L780.5,95.4 L781.9,97 L783.3,98.5 L784.7,100.1 L786.1,101.7 L787.5,103.2 L789,104.8 L790.4,106.4 L791.8,107.9 L793.2,109.5 L794.6,111.1 L796,112.6 L797.4,114.2 L798.8,115.7 L800.2,117.3 L801.6,118.8 L803,120.3 L804.3,121.9 L805.7,123.4 L807.1,124.9 L808.5,126.4 L809.9,128 L811.3,129.5 L812.6,131 L814,132.5 L815.4,134 L816.7,135.5 L818.1,137 L819.5,138.4 L820.8,139.9 L822.2,141.4 L823.6,142.8 L824.9,144.3 L826.3,145.7 L827.6,147.2 L829,148.6 L830.4,150 L831.7,151.4 L833.1,152.9 L834.4,154.2 L835.8,155.6 L837.1,157 L838.5,158.4 L839.8,159.7 L841.2,161.1 L842.5,162.4 L843.9,163.7 L845.2,165 L846.5,166.3 L847.8,167.6 L849,168.9 L850.3,170.1 L851.5,171.4 L852.7,172.6 L854,173.8 L855.2,174.9 L856.5,176.1 L857.7,177.2 L859,178.3 L860.3,179.4 L861.6,180.5 L862.9,181.5 L864.3,182.5 L865.7,183.5 L867.2,184.4 L868.6,185.4 L870.1,186.2 L871.7,187.1 L873.2,187.9 L874.8,188.7 L876.4,189.4 L878,190.1 L879.6,190.7 L881.2,191.3 L882.9,191.8 L884.5,192.3 L886.2,192.7 L887.8,193.1 L889.5,193.5 L891.2,193.7 L892.8,193.9 L894.5,194.1 L896.1,194.2 L897.8,194.2 L899.4,194.2 L901.1,194.1 L902.8,193.9 L904.6,193.7 L906.3,193.5 L908.1,193.1 L909.9,192.7 L911.6,192.3 L913.4,191.8 L915.2,191.3 L916.9,190.7 L918.6,190.1 L920.3,189.4 L921.9,188.7 L923.5,187.9 L925.1,187.1 L926.6,186.2 L928,185.4 L929.4,184.4 L930.7,183.5 L932.1,182.5 L933.4,181.5 L934.7,180.5 L935.9,179.4 L937.2,178.3 L938.4,177.2 L939.6,176.1 L940.9,174.9 L942.1,173.8 L943.3,172.6 L944.6,171.4 L945.8,170.1 L947.1,168.9 L948.4,167.6 L949.6,166.3 L951,165 L952.3,163.7 L953.7,162.4 L955,161.1 L956.4,159.7 L957.8,158.4 L959.1,157 L960.5,155.6 L961.9,154.2 L963.3,152.9 L964.7,151.4 L966,150 L967.4,148.6 L968.8,147.2 L970.2,145.7 L971.6,144.3 L973,142.8 L974.3,141.4 L975.7,139.9 L977.1,138.4 L978.5,137 L979.9,135.5 L981.3,134 L982.7,132.5 L984.1,131 L985.5,129.5 L986.9,128 L988.3,126.4 L989.7,124.9 L991.1,123.4 L992.5,121.9 L993.9,120.3 L995.3,118.8 L996.7,117.3 L998.1,115.7 L999.5,114.2 L1001,112.6 L1002.4,111.1 L1003.8,109.5 L1005.2,107.9 L1006.6,106.4 L1008,104.8 L1009.4,103.2 L1010.8,101.7 L1012.2,100.1 L1013.7,98.5 L1015.1,97 L1016.5,95.4 L1017.9,93.8 L1019.3,92.2 L1020.7,90.6 L1022.1,89 L1023.6,87.4 L1025,85.9 L1026.4,84.3 L1027.8,82.7 L1029.2,81.1 L1030.6,79.5 L1032.1,77.9 L1033.5,76.3 L1034.9,74.7 L1036.3,73.1 L1037.7,71.5 L1039.1,69.9 L1040.6,68.3 L1042,66.7 L1043.4,65.1 L1044.8,63.5 L1046.2,61.9 L1047.6,60.3 L1049.1,58.7 L1050.5,57.1 L1051.9,55.5 L1053.3,53.9 L1054.7,52.3 L1056.2,50.6 L1057.6,49 L1059,47.4 L1060.4,45.8 L1061.8,44.2 L1063.3,42.6 L1064.7,41 L1066.1,39.4 L1067.5,37.8 L1069,36.2 L1070.4,34.6 L1071.8,33 L1073.2,31.4 L1074.6,29.8 L1076.1,28.1 L1077.5,26.5 L1078.9,24.9 L1080.3,23.3 L1081.8,21.7 L1083.2,20.1 L1084.6,18.5 L1086,16.9 L1087.5,15.2 L1088.9,13.6 L1090.3,12 L1091.7,10.4 L1093.2,8.7 L1094.6,7.1 L1096,5.5 L1097.4,3.8 L1098.9,2.2 L1100.3,0.5 L1101.7,-1.1 L1103.2,-2.8 L1104.6,-4.5 L1106,-6.2 L1107.5,-7.9 L1108.9,-9.6 L1110.3,-11.3 L1111.7,-13.1 L1113.2,-14.9 L1114.6,-16.8 L1116,-18.7 L1117.5,-27 L1118.9,-23.5 L1120.3,-26.2 L1121.8,-27.1 L1123.2,-41.6 L1124.6,-39.3 L1126.1,-40.3"/>
</g>
<rect x="654.8" y="195.2" width="489.4" height="107.4" fill="#ff8000"/>
<rect x="654.8" y="497.4" width="489.4" height="161.7" fill="#00ffff"/>
<path d="M654.25,901.0V13.0" stroke="#555" stroke-width="1.1" fill="none"/>
<path d="M1144.75,13.0V901.0" stroke="#000" stroke-width="1.6" fill="none"/>
<path d="M653.65,13.0H1145.35M653.65,901.0H1145.35" stroke="#000" stroke-width="1.3" fill="none"/>
<path d="M1443.3,901.0v-10.5M1443.3,13.0v10.5" stroke="#000" stroke-width="1.0" fill="none"/>
<g clip-path="url(#clipc)" stroke="#000" stroke-width="5.1" fill="none" stroke-linejoin="round">
<path d="M1302.5,2 L1302.7,2.2 L1303,2.4 L1303.4,2.6 L1304,2.8 L1304.6,3 L1305.3,3.2 L1306.1,3.4 L1307.2,3.6 L1308.5,3.8 L1309.9,4 L1311.5,4.2 L1313.2,4.4 L1314.9,4.6 L1316.7,4.8 L1318.7,5 L1320.9,5.3 L1323.2,5.5 L1325.6,5.7 L1328.1,5.9 L1330.7,6.1 L1333.4,6.3 L1336.1,6.5 L1339,6.7 L1342,6.9 L1345.1,7.1 L1348.4,7.3 L1351.8,7.5 L1355.3,7.7 L1359,7.9 L1362.7,8.1 L1366.6,8.3 L1370.7,8.5 L1374.8,8.7 L1379.1,8.9 L1383.6,9.1 L1388.4,9.3 L1393.3,9.5 L1398.5,9.7 L1404,9.9 L1409.8,10.1 L1415.9,10.3 L1422.3,10.5 L1429.1,10.7 L1436.2,10.9 L1443.7,11.1 L1451.6,11.3 L1460,11.6 L1469,11.8 L1478.4,12 L1488.5,12.2 L1500.1,12.4 L1513,12.6 L1526.9,12.8 L1541.5,13 L1556.2,13.2 L1570.9,13.4 L1585.8,13.6 L1601.1,13.8 L1616.8,14 L1632.9,14.2 L1649.3,14.4 L1666.2,14.6 L1647.5,14.8 L1629.3,15 L1611.5,15.2 L1594.2,15.4 L1577.4,15.6 L1561.1,15.8 L1544.7,16 L1528.5,16.2 L1512.8,16.4 L1498.3,16.6 L1485.3,16.8 L1474.1,17 L1463.6,17.2 L1453.8,17.4 L1444.6,17.7 L1436,17.9 L1427.9,18.1 L1420.2,18.3 L1413,18.5 L1406.1,18.7 L1399.6,18.9 L1393.5,19.1 L1387.7,19.3 L1382.2,19.5 L1377,19.7 L1372,19.9 L1367.3,20.1 L1362.8,20.3 L1358.4,20.5 L1354.1,20.7 L1350,20.9 L1346.1,21.1 L1342.3,21.3 L1338.6,21.5 L1335.2,21.7 L1331.8,21.9 L1328.7,22.1 L1325.7,22.3 L1322.7,22.5 L1319.9,22.7 L1317.2,22.9 L1314.6,23.1 L1312.1,23.4 L1309.9,23.6 L1307.8,23.8 L1305.9,24 L1304.1,24.2 L1302.3,24.4 L1300.8,24.6 L1299.4,24.8 L1298.4,25 L1297.6,25.2 L1296.8,25.4 L1296.2,25.6 L1295.6,25.8 L1295.3,26 L1295.1,26.2 L1295.3,26.4 L1295.6,26.6 L1296.1,26.8 L1296.8,27 L1297.5,27.2 L1298.3,27.4 L1299.3,27.6 L1300.5,27.8 L1302,28 L1303.7,28.2 L1305.5,28.4 L1307.4,28.6 L1309.4,28.8 L1311.5,29 L1313.9,29.2 L1316.4,29.4 L1319,29.6 L1321.8,29.8 L1324.7,30 L1327.6,30.2 L1330.7,30.4 L1333.9,30.6 L1337.2,30.8 L1340.7,31 L1344.3,31.2 L1348.1,31.4 L1352.1,31.6 L1356.1,31.8 L1360.4,32 L1364.7,32.2 L1369.3,32.4 L1373.9,32.6 L1378.8,32.8 L1383.9,33 L1389.2,33.2 L1394.8,33.4 L1400.8,33.6 L1407,33.8 L1413.6,34 L1420.6,34.2 L1427.9,34.4 L1435.6,34.6 L1443.7,34.8 L1452.4,35 L1461.5,35.2 L1471.3,35.4 L1481.6,35.6 L1492.6,35.8 L1504.9,36 L1518.9,36.2 L1534.2,36.4 L1550.3,36.6 L1566.9,36.8 L1583.4,37 L1600,37.2 L1617.1,37.4 L1634.6,37.6 L1652.7,37.8 L1671.1,38 L1690,38.2 L1672.8,38.4 L1655.9,38.6 L1639.3,38.8 L1623.2,39 L1607.4,39.2 L1592.1,39.4 L1577.1,39.6 L1561.9,39.8 L1546.9,40 L1532.4,40.2 L1518.6,40.4 L1505.9,40.6 L1494.8,40.8 L1484.7,41 L1475.2,41.2 L1466.3,41.4 L1457.8,41.6 L1449.7,41.8 L1442.1,42 L1434.8,42.2 L1428,42.4 L1421.4,42.6 L1415.1,42.8 L1409.2,43 L1403.5,43.2 L1398.1,43.4 L1393,43.6 L1388.1,43.8 L1383.4,44 L1378.9,44.2 L1374.6,44.4 L1370.4,44.6 L1366.4,44.8 L1362.4,45 L1358.6,45.2 L1354.9,45.4 L1351.3,45.6 L1347.9,45.8 L1344.6,46 L1341.4,46.2 L1338.3,46.4 L1335.4,46.6 L1332.6,46.8 L1329.8,47 L1327.2,47.2 L1324.6,47.4 L1322.1,47.6 L1319.8,47.8 L1317.5,48 L1315.4,48.2 L1313.5,48.4 L1311.7,48.6 L1309.9,48.8 L1308.3,49 L1306.7,49.2 L1305.3,49.4 L1304.1,49.6 L1303.1,49.8 L1302.3,50 L1301.6,50.2 L1301,50.4 L1300.4,50.6 L1300,50.8 L1299.7,51 L1299.5,51.2 L1299.7,51.4 L1300,51.6 L1300.5,51.8 L1301.1,52 L1301.8,52.2 L1302.5,52.4 L1303.4,52.6 L1304.6,52.8 L1306,53 L1307.5,53.2 L1309.2,53.4 L1310.9,53.6 L1312.8,53.8 L1314.8,54 L1317,54.2 L1319.3,54.4 L1321.8,54.6 L1324.3,54.8 L1327,55 L1329.8,55.2 L1332.6,55.4 L1335.6,55.6 L1338.7,55.8 L1341.9,56 L1345.3,56.2 L1348.9,56.4 L1352.5,56.6 L1356.3,56.8 L1360.3,57 L1364.4,57.2 L1368.6,57.4 L1372.9,57.6 L1377.4,57.8 L1382.2,58 L1387.2,58.2 L1392.4,58.4 L1397.9,58.6 L1403.7,58.8 L1409.9,59 L1416.3,59.2 L1423.1,59.4 L1430.3,59.6 L1437.9,59.8 L1446,60 L1454.5,60.2 L1463.6,60.4 L1473.2,60.6 L1483.4,60.8 L1494.9,61 L1507.9,61.2 L1522.2,61.4 L1537.2,61.6 L1552.6,61.8 L1568,62 L1583.4,62.2 L1599.3,62.4 L1615.7,62.6 L1632.5,62.8 L1649.7,63 L1667.2,63.2 L1648.3,63.4 L1629.8,63.6 L1611.8,63.8 L1594.4,64 L1577.5,64.2 L1560.9,64.4 L1544.2,64.6 L1528,64.8 L1512.8,65 L1499,65.2 L1487.3,65.4 L1476.6,65.6 L1466.6,65.8 L1457.3,66 L1448.5,66.2 L1440.3,66.4 L1432.7,66.6 L1425.4,66.8 L1418.6,67 L1412.2,67.2 L1406.1,67.4 L1400.4,67.6 L1395,67.8 L1389.9,68 L1385.1,68.2 L1380.5,68.4 L1376,68.7 L1371.7,68.9 L1367.5,69.1 L1363.5,69.3 L1359.7,69.5 L1356.1,69.7 L1352.6,69.9 L1349.3,70.1 L1346.2,70.3 L1343.2,70.5 L1340.3,70.7 L1337.5,70.9 L1334.9,71.1 L1332.4,71.3 L1330.1,71.5 L1328,71.7 L1326.1,71.9 L1324.3,72.1 L1322.5,72.3 L1321,72.5 L1319.8,72.7 L1318.9,72.9 L1318.2,73.1 L1317.5,73.3 L1316.9,73.5 L1316.5,73.7 L1316.3,73.9 L1316.5,74.1 L1316.8,74.3 L1317.3,74.5 L1317.9,74.7 L1318.6,74.9 L1319.3,75.1 L1320.2,75.3 L1321.4,75.5 L1322.9,75.7 L1324.5,75.9 L1326.2,76.1 L1327.9,76.3 L1329.8,76.5 L1331.9,76.7 L1334.1,76.9 L1336.4,77.1 L1338.9,77.3 L1341.5,77.5 L1344.3,77.7 L1347.1,77.9 L1350,78.1 L1353,78.3 L1356.1,78.5 L1359.4,78.7 L1362.9,78.9 L1366.5,79.1 L1370.2,79.3 L1374.1,79.5 L1378.1,79.7 L1382.2,80 L1386.5,80.2 L1390.9,80.4 L1395.5,80.6 L1400.3,80.8 L1405.4,81 L1410.7,81.2 L1416.3,81.4 L1422.2,81.6 L1428.4,81.8 L1435,82 L1441.9,82.2 L1449.2,82.4 L1457,82.6 L1465.1,82.8 L1473.8,83 L1483,83.2 L1492.8,83.4 L1503.2,83.6 L1514.8,83.8 L1528.1,84 L1542.6,84.2 L1557.8,84.4 L1573.5,84.6 L1589.1,84.8 L1604.8,85 L1621,85.2 L1637.6,85.4 L1654.7,85.6 L1672.1,85.8 L1690,86 L1671.3,86.2 L1653,86.4 L1635.2,86.6 L1617.7,86.8 L1600.8,87 L1584.3,87.2 L1568,87.4 L1551.6,87.6 L1535.5,87.8 L1520.2,88 L1506.1,88.2 L1493.6,88.4 L1482.5,88.6 L1472.2,88.8 L1462.4,89 L1453.2,89.2 L1444.5,89.4 L1436.3,89.6 L1428.5,89.8 L1421.1,90 L1414.2,90.2 L1407.5,90.4 L1401.2,90.6 L1395.2,90.8 L1389.5,91 L1384.1,91.2 L1379,91.4 L1374.1,91.6 L1369.3,91.8 L1364.8,92 L1360.4,92.2 L1356.2,92.4 L1352,92.6 L1348.1,92.8 L1344.2,93 L1340.5,93.2 L1337,93.4 L1333.6,93.6 L1330.3,93.8 L1327.3,94 L1324.3,94.2 L1321.3,94.4 L1318.5,94.6 L1315.8,94.8 L1313.2,95 L1310.8,95.2 L1308.5,95.4 L1306.4,95.6 L1304.5,95.8 L1302.7,96 L1300.9,96.2 L1299.2,96.4 L1297.8,96.6 L1296.6,96.8 L1295.7,97 L1294.9,97.2 L1294.2,97.4 L1293.5,97.6 L1293,97.8 L1292.7,98 L1292.5,98.2 L1292.6,98.4 L1292.8,98.6 L1293.1,98.8 L1293.5,99 L1294,99.2 L1294.5,99.4 L1295,99.6 L1295.7,99.8 L1296.5,100 L1297.5,100.2 L1298.6,100.4 L1299.8,100.6 L1300.9,100.8 L1302.2,101 L1303.5,101.2 L1305,101.4 L1306.5,101.6 L1308.2,101.8 L1309.9,102 L1311.7,102.2 L1313.5,102.4 L1315.4,102.6 L1317.4,102.8 L1319.4,103 L1321.5,103.2 L1323.7,103.4 L1326,103.6 L1328.4,103.8 L1330.9,104 L1333.4,104.2 L1336.1,104.4 L1338.8,104.6 L1341.6,104.9 L1344.5,105.1 L1347.5,105.3 L1350.6,105.5 L1353.9,105.7 L1357.3,105.9 L1360.8,106.1 L1364.6,106.3 L1368.5,106.5 L1372.6,106.7 L1376.9,106.9 L1381.5,107.1 L1386.2,107.3 L1391.3,107.5 L1396.5,107.7 L1402.1,107.9 L1408,108.1 L1414.2,108.3 L1420.8,108.5 L1427.8,108.7 L1435.5,108.9 L1444.2,109.1 L1453.8,109.3 L1463.9,109.5 L1474.3,109.7 L1484.7,109.9 L1495.1,110.1 L1505.8,110.3 L1516.7,110.5 L1527.9,110.7 L1539.3,110.9 L1551,111.1 L1563,111.3 L1550.2,111.5 L1537.7,111.7 L1525.5,111.9 L1513.7,112.1 L1502.2,112.3 L1491,112.5 L1479.8,112.7 L1468.6,112.9 L1457.9,113.1 L1447.9,113.3 L1439,113.5 L1431.3,113.7 L1424.2,113.9 L1417.5,114.1 L1411.2,114.3 L1405.3,114.5 L1399.7,114.7 L1394.4,114.9 L1389.5,115.1 L1384.8,115.3 L1380.3,115.5 L1376.1,115.7 L1372.2,115.9 L1368.4,116.1 L1364.8,116.3 L1361.4,116.5 L1358.2,116.7 L1355.1,116.9 L1352.1,117.2 L1349.2,117.4 L1346.3,117.6 L1343.6,117.8 L1341,118 L1338.5,118.2 L1336.2,118.4 L1333.9,118.6 L1331.7,118.8 L1329.7,119 L1327.6,119.2 L1325.7,119.4 L1323.8,119.6 L1322.1,119.8 L1320.4,120 L1318.8,120.2 L1317.4,120.4 L1316.1,120.6 L1314.9,120.8 L1313.7,121 L1312.6,121.2 L1311.7,121.4 L1311,121.6 L1310.4,121.8 L1309.9,122 L1309.5,122.2 L1309.1,122.4 L1308.8,122.6 L1308.8,122.8 L1308.9,123 L1309.3,123.2 L1309.9,123.4 L1310.6,123.6 L1311.4,123.8 L1312.3,124 L1313.5,124.2 L1315,124.4 L1316.7,124.6 L1318.6,124.8 L1320.6,125 L1322.7,125.2 L1325,125.4 L1327.5,125.6 L1330.2,125.8 L1333,126 L1336,126.2 L1339.1,126.4 L1342.3,126.6 L1345.6,126.8 L1349,127 L1352.7,127.2 L1356.6,127.4 L1360.6,127.6 L1364.8,127.8 L1369.1,128 L1373.6,128.2 L1378.3,128.4 L1383.1,128.6 L1388.2,128.8 L1393.5,129 L1399.1,129.2 L1405,129.4 L1411.3,129.6 L1417.9,129.8 L1424.9,130 L1432.4,130.2 L1440.2,130.4 L1448.6,130.6 L1457.5,130.8 L1466.9,131 L1477.1,131.2 L1487.8,131.4 L1499.4,131.6 L1512.4,131.8 L1527.4,132 L1543.8,132.2 L1560.9,132.4 L1578.4,132.6 L1595.7,132.8 L1613.5,133 L1631.9,133.2 L1650.8,133.4 L1670.1,133.6 L1690,133.8 L1669.3,134 L1649.2,134.2 L1629.5,134.4 L1610.4,134.6 L1591.8,134.8 L1573.7,135 L1555.6,135.2 L1537.6,135.4 L1520.3,135.6 L1504.1,135.8 L1489.8,136 L1477.3,136.2 L1465.8,136.4 L1454.9,136.6 L1444.8,136.8 L1435.2,137 L1426.2,137.2 L1417.7,137.4 L1409.7,137.6 L1402.1,137.8 L1394.9,138 L1388.1,138.2 L1381.7,138.4 L1375.6,138.6 L1369.8,138.8 L1364.4,139 L1359.1,139.2 L1354.1,139.4 L1349.2,139.7 L1344.5,139.9 L1340,140.1 L1335.6,140.3 L1331.4,140.5 L1327.4,140.7 L1323.5,140.9 L1319.9,141.1 L1316.4,141.3 L1313,141.5 L1309.8,141.7 L1306.6,141.9 L1303.6,142.1 L1300.8,142.3 L1298.1,142.5 L1295.6,142.7 L1293.3,142.9 L1291.2,143.1 L1289.1,143.3 L1287.2,143.5 L1285.5,143.7 L1284,143.9 L1282.8,144.1 L1281.9,144.3 L1281.1,144.5 L1280.4,144.7 L1279.8,144.9 L1279.4,145.1 L1279.2,145.3 L1279.3,145.5 L1279.4,145.7 L1279.5,145.9 L1279.7,146.1 L1279.9,146.3 L1280.2,146.5 L1280.5,146.7 L1280.9,146.9 L1281.3,147.1 L1281.8,147.3 L1282.3,147.5 L1282.9,147.7 L1283.5,147.9 L1284.1,148.1 L1284.8,148.3 L1285.6,148.5 L1286.4,148.7 L1287.2,148.9 L1288,149.1 L1288.8,149.3 L1289.8,149.5 L1290.7,149.7 L1291.7,149.9 L1292.8,150.1 L1293.9,150.3 L1295,150.5 L1296.2,150.8 L1297.4,151 L1298.7,151.2 L1300.1,151.4 L1301.5,151.6 L1303,151.8 L1304.6,152 L1306.3,152.2 L1308.1,152.4 L1310,152.6 L1312,152.8 L1314.2,153 L1316.5,153.2 L1319,153.4 L1321.6,153.6 L1324.5,153.8 L1327.6,154 L1331.2,154.2 L1335.2,154.4 L1339.5,154.6 L1343.9,154.8 L1348.3,155 L1352.8,155.2 L1357.4,155.4 L1362.1,155.6 L1367,155.8 L1372,156 L1366.1,156.2 L1360.4,156.4 L1354.8,156.6 L1349.4,156.8 L1344.2,157 L1339,157.2 L1333.9,157.4 L1329.1,157.6 L1324.7,157.8 L1321.1,158 L1317.7,158.2 L1314.7,158.4 L1311.8,158.6 L1309.1,158.8 L1306.7,159 L1304.4,159.2 L1302.2,159.4 L1300.2,159.6 L1298.3,159.8 L1296.5,160 L1294.8,160.2 L1293.2,160.4 L1291.8,160.6 L1290.3,160.8 L1289,161.1 L1287.7,161.3 L1286.4,161.5 L1285.2,161.7 L1284.1,161.9 L1283,162.1 L1282,162.3 L1281,162.5 L1280.1,162.7 L1279.2,162.9 L1278.3,163.1 L1277.6,163.3 L1276.8,163.5 L1276.2,163.7 L1275.6,163.9 L1275,164.1 L1274.5,164.3 L1274,164.5 L1273.7,164.7 L1273.4,164.9 L1273.2,165.1 L1273,165.3 L1272.9,165.5 L1272.8,165.7 L1273.1,165.9 L1273.6,166.1 L1274.5,166.3 L1275.5,166.5 L1276.5,166.7 L1278,166.9 L1280,167.1 L1282.3,167.3 L1284.8,167.5 L1287.4,167.7 L1290.3,167.9 L1293.5,168.1 L1296.9,168.3 L1300.6,168.5 L1304.5,168.7 L1308.5,168.9 L1312.7,169.1 L1317.2,169.3 L1321.9,169.5 L1326.9,169.7 L1332.2,169.9 L1337.7,170.1 L1343.4,170.3 L1349.4,170.5 L1355.6,170.7 L1362.2,170.9 L1369.2,171.1 L1376.6,171.3 L1384.6,171.5 L1393.1,171.7 L1402.2,171.9 L1411.9,172.1 L1422.3,172.3 L1433.5,172.5 L1445.5,172.7 L1458.5,172.9 L1472.5,173.1 L1487.8,173.3 L1506,173.5 L1526.5,173.7 L1548.4,173.9 L1570.7,174.1 L1593,174.3 L1616.1,174.5 L1640,174.7 L1664.6,174.9 L1690,175.1 L1690,175.1 L1684.9,175.1 L1679.8,175.1 L1674.8,175.1 L1669.7,175.2 L1664.6,175.2 L1659.5,175.2 L1654.5,175.2 L1649.4,175.2 L1644.3,175.3 L1639.2,175.3 L1634.2,175.3 L1629.1,175.3 L1624,175.4 L1618.9,175.4 L1613.9,175.4 L1608.8,175.4 L1603.7,175.5 L1598.6,175.5 L1593.6,175.5 L1588.5,175.6 L1583.4,175.6 L1578.3,175.6 L1573.3,175.7 L1568.2,175.7 L1563.1,175.7 L1558,175.8 L1553,175.8 L1547.9,175.8 L1542.8,175.9 L1537.7,175.9 L1532.7,175.9 L1527.6,176 L1522.5,176 L1517.4,176.1 L1512.4,176.1 L1507.3,176.1 L1502.2,176.2 L1497.1,176.2 L1492.1,176.3 L1487,176.3 L1481.9,176.3 L1476.8,176.4 L1471.8,176.4 L1466.7,176.5 L1461.6,176.5 L1456.5,176.6 L1451.5,176.6 L1446.4,176.7 L1441.3,176.8 L1436.2,176.8 L1431.2,176.9 L1426.1,176.9 L1421,177 L1415.9,177.1 L1410.9,177.1 L1405.8,177.2 L1400.7,177.3 L1395.6,177.4 L1390.6,177.5 L1385.5,177.5 L1380.4,177.6 L1375.3,177.7 L1370.3,177.8 L1365.2,177.9 L1360.1,178.1 L1355,178.2 L1350,178.3 L1344.9,178.4 L1339.8,178.6 L1334.7,178.7 L1329.7,178.8 L1324.6,179 L1319.5,179.1 L1314.5,179.3 L1309.4,179.4 L1304.3,179.6 L1299.2,179.8 L1294.2,180 L1289.1,180.1 L1284,180.3 L1279,180.5 L1273.9,180.8 L1268.8,181 L1263.7,181.3 L1258.7,181.6 L1253.6,181.9 L1248.6,182.3 L1243.5,182.7 L1238.4,183.2 L1233.4,183.7 L1228.3,184.3 L1223.3,185 L1218.3,185.8 L1213.3,186.8 L1208.4,188 L1203.5,189.5 L1199,191.8 L1196.3,195.8 L1196.3,201 L1196.3,201 L1196.3,245.2 L1692,245.2 L1196.3,245.3 L1196.3,302 L1196.3,302 L1197.5,306.1 L1198.8,310.3 L1201.2,313 L1205.3,314.8 L1209.6,316 L1213.7,316.7 L1217.8,317.3 L1222,317.8 L1226.2,318.2 L1230.5,318.6 L1234.7,318.8 L1239,319 L1243.2,319.1 L1247.4,319.3 L1251.6,319.4 L1255.8,319.5 L1260,319.6 L1264.2,319.7 L1268.4,319.8 L1272.6,319.9 L1276.9,320 L1281.1,320 L1285.3,320.1 L1289.5,320.1 L1293.7,320.2 L1298,320.3 L1302.2,320.3 L1306.4,320.3 L1310.6,320.4 L1314.8,320.4 L1319,320.5 L1323.3,320.5 L1327.5,320.5 L1331.7,320.5 L1335.9,320.6 L1340.1,320.6 L1344.3,320.6 L1348.5,320.6 L1352.8,320.7 L1357,320.7 L1361.2,320.7 L1365.4,320.7 L1369.6,320.7 L1373.8,320.8 L1378.1,320.8 L1382.3,320.8 L1386.5,320.8 L1390.7,320.8 L1394.9,320.9 L1399.1,320.9 L1403.3,320.9 L1407.6,320.9 L1411.8,321 L1416,321 L1420.2,321 L1424.4,321.1 L1428.6,321.1 L1432.9,321.1 L1437.1,321.2 L1441.3,321.2 L1445.5,321.2 L1449.7,321.2 L1453.9,321.3 L1458.1,321.3 L1462.4,321.3 L1466.6,321.4 L1470.8,321.4 L1475,321.4 L1479.2,321.4 L1483.4,321.5 L1487.7,321.5 L1491.9,321.5 L1496.1,321.6 L1500.3,321.6 L1504.5,321.6 L1508.7,321.6 L1513,321.7 L1517.2,321.7 L1521.4,321.7 L1525.6,321.7 L1529.8,321.8 L1534,321.8 L1538.2,321.8 L1542.5,321.8 L1546.7,321.9 L1550.9,321.9 L1555.1,321.9 L1559.3,322 L1563.5,322 L1567.8,322 L1572,322.1 L1576.2,322.1 L1580.4,322.1 L1584.6,322.2 L1588.8,322.2 L1593,322.2 L1597.3,322.2 L1601.5,322.3 L1605.7,322.3 L1609.9,322.3 L1614.1,322.4 L1618.3,322.4 L1622.6,322.4 L1626.8,322.5 L1631,322.5 L1635.2,322.5 L1639.4,322.6 L1643.6,322.6 L1647.8,322.6 L1652.1,322.6 L1656.3,322.7 L1660.5,322.7 L1664.7,322.7 L1668.9,322.8 L1673.1,322.8 L1677.4,322.8 L1681.6,322.8 L1685.8,322.9 L1690,322.9 L1690,322.9 L1665.4,323.1 L1640,323.3 L1614,323.5 L1587.3,323.7 L1559.9,323.9 L1530.8,324.1 L1498.1,324.3 L1463.8,324.5 L1429.8,324.7 L1398.5,324.9 L1372,325.1 L1352.2,325.3 L1337,325.5 L1326.2,325.7 L1318.9,325.9 L1313,326.1 L1308.1,326.3 L1303.6,326.5 L1299,326.7 L1294,326.9 L1288.6,327.1 L1283.1,327.3 L1277.8,327.5 L1272.9,327.7 L1268.6,327.9 L1265.2,328.1 L1262.3,328.3 L1259.5,328.5 L1257,328.8 L1254.7,329 L1252.5,329.2 L1250.5,329.4 L1248.5,329.6 L1246.8,329.8 L1245,330 L1243.4,330.2 L1241.8,330.4 L1240.3,330.6 L1238.9,330.8 L1237.5,331 L1236.2,331.2 L1235,331.4 L1233.9,331.6 L1232.9,331.8 L1231.9,332 L1231,332.2 L1230.1,332.4 L1229.3,332.6 L1228.6,332.8 L1228.1,333 L1227.7,333.2 L1227.4,333.4 L1227,333.6 L1226.8,333.8 L1226.6,334 L1226.5,334.2 L1226,334.9 L1233.3,338.3 L1241.1,339.8 L1249.2,340.8 L1257.4,341.7 L1265.4,342.6 L1273.5,343.3 L1281.6,344 L1289.6,344.8 L1297.8,345.7 L1306.8,346.8 L1306.4,350.3 L1302,353.6 L1309.8,354.9 L1319.9,355.5 L1327.9,356 L1336,356.4 L1344.1,356.8 L1352.2,357.1 L1360.3,357.4 L1368.4,357.6 L1376.5,357.9 L1384.6,358.1 L1392.7,358.3 L1400.8,358.5 L1408.9,358.7 L1417,359 L1425.1,359.2 L1433.2,359.4 L1441.3,359.6 L1449.4,359.8 L1457.5,360 L1465.6,360.1 L1473.7,360.3 L1481.8,360.5 L1489.9,360.7 L1498,360.8 L1506.1,361 L1514.1,361.1 L1522.2,361.3 L1530.3,361.4 L1538.4,361.6 L1546.5,361.7 L1554.6,361.9 L1562.7,362 L1570.8,362.2 L1578.9,362.3 L1587,362.4 L1595.1,362.6 L1603.2,362.7 L1611.3,362.8 L1619.4,362.9 L1627.5,363.1 L1635.6,363.2 L1643.7,363.3 L1651.8,363.4 L1659.9,363.5 L1668,363.6 L1676.1,363.7 L1684.2,363.8 L1683.7,363.8 L1664.7,364 L1645.4,364.2 L1625.7,364.4 L1605.5,364.6 L1584.8,364.8 L1563.8,365 L1542.2,365.2 L1518.3,365.4 L1492.6,365.6 L1466,365.8 L1439.8,366 L1414.9,366.2 L1392.4,366.4 L1373.4,366.6 L1358.7,366.8 L1346.7,367 L1337.3,367.2 L1330.7,367.5 L1325.4,367.7 L1321,367.9 L1317.1,368.1 L1313.6,368.3 L1310.2,368.5 L1306.6,368.7 L1302.7,368.9 L1298.6,369.1 L1294.4,369.3 L1290.2,369.5 L1286.2,369.7 L1282.4,369.9 L1279.1,370.1 L1276.2,370.3 L1273.9,370.5 L1271.7,370.7 L1269.6,370.9 L1267.6,371.1 L1265.8,371.3 L1264,371.5 L1262.4,371.7 L1260.8,371.9 L1259.4,372.1 L1258,372.3 L1256.6,372.5 L1255.3,372.7 L1254.1,372.9 L1252.8,373.1 L1251.7,373.3 L1250.5,373.5 L1249.4,373.7 L1248.4,373.9 L1247.4,374.1 L1246.5,374.3 L1245.6,374.6 L1244.7,374.8 L1243.9,375 L1243.2,375.2 L1242.5,375.4 L1241.8,375.6 L1241.1,375.8 L1240.5,376 L1240,376.2 L1239.5,376.4 L1239.2,376.6 L1238.9,376.8 L1238.6,377 L1238.4,377.2 L1238.2,377.4 L1238,377.6 L1237.9,377.8 L1237.8,378 L1237.9,378.2 L1237.9,378.4 L1238,378.6 L1238.1,378.8 L1238.2,379 L1238.3,379.2 L1238.4,379.4 L1238.6,379.6 L1238.8,379.8 L1239,380 L1239.3,380.2 L1239.6,380.4 L1239.9,380.6 L1240.2,380.8 L1240.5,381 L1240.8,381.2 L1241.2,381.4 L1241.6,381.6 L1242,381.8 L1242.4,382 L1242.9,382.2 L1243.4,382.4 L1243.8,382.6 L1244.4,382.8 L1244.9,383 L1245.4,383.2 L1246,383.4 L1246.6,383.6 L1247.2,383.8 L1247.8,384 L1248.5,384.2 L1249.3,384.4 L1250,384.6 L1250.9,384.9 L1251.7,385.1 L1252.7,385.3 L1253.7,385.5 L1254.9,385.7 L1256.3,385.9 L1257.9,386.1 L1259.7,386.3 L1261.4,386.5 L1263.2,386.7 L1264.9,386.9 L1266.5,387.1 L1268,387.3 L1269.5,387.5 L1271,387.7 L1272.7,387.9 L1274.7,388.1 L1277.2,388.3 L1280.5,388.5 L1285.1,388.7 L1290.7,388.9 L1298,389.1 L1307,389.3 L1317.3,389.5 L1328.2,389.7 L1339.4,389.9 L1350.4,390.1 L1360.7,390.3 L1370,390.5 L1378.9,390.7 L1387.6,390.9 L1396.1,391.1 L1404.5,391.3 L1412.7,391.5 L1420.7,391.7 L1413.7,391.9 L1406.5,392.1 L1399.1,392.3 L1391.4,392.5 L1382.8,392.7 L1373.3,392.9 L1363.8,393.1 L1355.3,393.3 L1348.9,393.5 L1344.6,393.7 L1341.8,393.9 L1339.9,394.1 L1338.5,394.3 L1337.2,394.5 L1335.9,394.7 L1334.4,394.9 L1332.9,395.1 L1331.4,395.3 L1330.1,395.5 L1329.1,395.7 L1328.3,395.9 L1327.6,396.2 L1326.9,396.4 L1326.3,396.6 L1325.8,396.8 L1325.3,397 L1324.8,397.2 L1324.3,397.4 L1323.9,397.6 L1323.5,397.8 L1323.1,398 L1322.8,398.2 L1322.4,398.4 L1322.2,398.6 L1321.9,398.8 L1321.6,399 L1321.4,399.2 L1321.2,399.4 L1321.1,399.6 L1321,399.8 L1320.9,400 L1320.9,400.2 L1320.8,400.4 L1320.9,400.6 L1321.1,400.8 L1321.4,401 L1321.7,401.2 L1322.1,401.4 L1322.7,401.6 L1323.4,401.8 L1324.3,402 L1325.1,402.2 L1326.1,402.4 L1327.1,402.6 L1328.3,402.8 L1329.5,403 L1330.8,403.2 L1332.2,403.4 L1333.7,403.6 L1335.3,403.8 L1337,404 L1338.8,404.2 L1340.7,404.4 L1342.8,404.6 L1345.1,404.8 L1347.6,405 L1350.4,405.2 L1353.6,405.4 L1357.9,405.6 L1362.8,405.8 L1368.1,406 L1373.2,406.2 L1378,406.4 L1382.3,406.6 L1386.8,406.8 L1392.4,407 L1399.9,407.2 L1412.2,407.4 L1429.5,407.6 L1454.5,407.8 L1485.1,408 L1518.1,408.2 L1550.2,408.4 L1578.5,408.6 L1604.7,408.8 L1630.1,409 L1654.7,409.2 L1678.5,409.4 L1658.9,409.6 L1638.9,409.8 L1618.5,410 L1597.6,410.2 L1576.2,410.4 L1554.4,410.6 L1531.8,410.8 L1506.6,411 L1479.7,411.2 L1452.3,411.4 L1425.5,411.6 L1400.5,411.8 L1378.4,412 L1360.5,412.2 L1346.8,412.4 L1335.6,412.6 L1327.3,412.8 L1321.4,413 L1316.5,413.2 L1312.3,413.4 L1308.5,413.6 L1305,413.8 L1301.4,414 L1297.4,414.2 L1293.2,414.4 L1288.8,414.6 L1284.5,414.8 L1280.3,415 L1276.4,415.2 L1272.9,415.4 L1269.9,415.6 L1267.4,415.8 L1265.1,416 L1263,416.2 L1261,416.4 L1259.1,416.6 L1257.3,416.8 L1255.6,417 L1254,417.2 L1252.5,417.4 L1251,417.6 L1249.7,417.8 L1248.3,418 L1247.1,418.2 L1245.8,418.4 L1244.6,418.6 L1243.5,418.8 L1242.3,419 L1241.3,419.2 L1240.3,419.4 L1239.3,419.6 L1238.4,419.8 L1237.6,420 L1236.8,420.2 L1236.1,420.4 L1235.4,420.6 L1234.7,420.8 L1234,421 L1233.4,421.2 L1232.9,421.4 L1232.6,421.6 L1232.3,421.8 L1232,422 L1231.7,422.2 L1231.5,422.4 L1231.3,422.6 L1231.2,422.8 L1231.1,423 L1231.2,423.2 L1231.2,423.4 L1231.3,423.6 L1231.4,423.8 L1231.6,424 L1231.7,424.2 L1231.9,424.4 L1232,424.6 L1232.2,424.8 L1232.5,425 L1232.8,425.2 L1233.2,425.4 L1233.5,425.6 L1233.9,425.8 L1234.3,426 L1234.7,426.2 L1235.2,426.4 L1235.6,426.6 L1236.1,426.8 L1236.6,427 L1237.2,427.2 L1237.7,427.4 L1238.3,427.6 L1238.9,427.8 L1239.6,428 L1240.2,428.2 L1240.9,428.4 L1241.6,428.6 L1242.4,428.8 L1243.1,429 L1243.9,429.2 L1244.7,429.4 L1245.5,429.6 L1246.4,429.8 L1247.3,430 L1248.3,430.2 L1249.4,430.4 L1250.5,430.6 L1251.6,430.9 L1252.9,431.1 L1254.2,431.3 L1255.7,431.5 L1257.5,431.7 L1259.5,431.9 L1261.7,432.1 L1264,432.3 L1266.3,432.5 L1268.7,432.7 L1271,432.9 L1273.2,433.1 L1275.2,433.3 L1277.1,433.5 L1279.1,433.7 L1281.2,433.9 L1283.5,434.1 L1286.3,434.3 L1289.5,434.5 L1293.9,434.7 L1299.8,434.9 L1306.9,435.1 L1315.6,435.3 L1326.6,435.5 L1339.4,435.7 L1353.3,435.9 L1368,436.1 L1382.9,436.3 L1397.6,436.5 L1411.4,436.7 L1423.9,436.9 L1435.8,437.1 L1447.5,437.3 L1459,437.5 L1470.3,437.7 L1481.3,437.9 L1492.2,438.1 L1502.8,438.3 L1488.4,438.5 L1473.4,438.7 L1457.8,438.9 L1441.2,439.1 L1421.9,439.3 L1402.2,439.5 L1384.9,439.7 L1372.8,439.9 L1364.9,440.1 L1360.4,440.4 L1357.3,440.6 L1354.6,440.8 L1351.9,441 L1348.8,441.2 L1345.6,441.4 L1342.8,441.6 L1340.6,441.8 L1338.8,442 L1337.3,442.2 L1336,442.4 L1334.8,442.6 L1333.7,442.8 L1332.6,443 L1331.7,443.2 L1330.8,443.4 L1330,443.6 L1329.2,443.8 L1328.5,444.1 L1327.9,444.3 L1327.4,444.5 L1326.8,444.7 L1326.4,444.9 L1326.1,445.1 L1325.8,445.3 L1325.6,445.5 L1325.5,445.7 L1325.5,445.9 L1325.5,446.1 L1325.7,446.3 L1326,446.5 L1326.4,446.7 L1326.9,446.9 L1327.6,447.1 L1328.4,447.3 L1329.2,447.5 L1330.2,447.7 L1331.2,447.9 L1332.4,448.1 L1333.7,448.3 L1335,448.5 L1336.5,448.7 L1338,448.9 L1339.7,449.1 L1341.5,449.3 L1343.4,449.5 L1345.5,449.7 L1347.9,449.9 L1350.5,450.2 L1353.6,450.4 L1357.6,450.6 L1362.5,450.8 L1367.7,451 L1372.8,451.2 L1377.3,451.4 L1381.6,451.6 L1386.6,451.8 L1393.3,452 L1404.5,452.2 L1421.4,452.4 L1446.6,452.6 L1477.6,452.8 L1510.4,453 L1540.9,453.2 L1567.4,453.4 L1592.9,453.6 L1617.4,453.8 L1641,454 L1622.4,454.2 L1603.4,454.4 L1583.9,454.6 L1563.9,454.8 L1543.6,455 L1522.8,455.2 L1501.2,455.4 L1477.1,455.6 L1451.5,455.8 L1425.3,456 L1399.8,456.2 L1375.9,456.4 L1354.9,456.6 L1337.8,456.8 L1324.8,457 L1314,457.2 L1306.2,457.4 L1300.5,457.6 L1295.8,457.8 L1291.8,458 L1288.2,458.2 L1284.8,458.4 L1281.4,458.6 L1277.7,458.8 L1273.6,459 L1269.5,459.2 L1265.3,459.4 L1261.3,459.6 L1257.6,459.8 L1254.2,460 L1251.4,460.2 L1249,460.4 L1246.9,460.6 L1244.8,460.9 L1242.9,461.1 L1241.1,461.3 L1239.4,461.5 L1237.8,461.7 L1236.2,461.9 L1234.8,462.1 L1233.4,462.3 L1232.1,462.5 L1230.8,462.7 L1229.6,462.9 L1228.4,463.1 L1227.3,463.3 L1226.2,463.5 L1225.1,463.7 L1224.1,463.9 L1223.2,464.1 L1222.3,464.3 L1221.4,464.5 L1220.6,464.7 L1219.9,464.9 L1219.1,465.1 L1218.5,465.3 L1217.8,465.5 L1217.2,465.7 L1216.6,465.9 L1216.2,466.1 L1215.8,466.3 L1215.5,466.5 L1215.2,466.7 L1215,466.9 L1214.8,467.1 L1214.6,467.3 L1214.5,467.5 L1214.5,467.7 L1214.5,467.9 L1214.6,468.1 L1214.8,468.3 L1215,468.5 L1215.3,468.7 L1215.6,468.9 L1215.9,469.1 L1216.3,469.3 L1216.9,469.5 L1217.5,469.7 L1218.2,469.9 L1218.9,470.1 L1219.6,470.3 L1220.4,470.5 L1221.2,470.7 L1222.1,470.9 L1223.1,471.1 L1224.1,471.3 L1225.1,471.5 L1226.2,471.7 L1227.4,471.9 L1228.6,472.1 L1229.9,472.3 L1231.2,472.5 L1232.5,472.7 L1233.9,472.9 L1235.4,473.1 L1237,473.3 L1238.7,473.5 L1240.4,473.7 L1242.4,473.9 L1244.4,474.1 L1246.6,474.3 L1248.9,474.5 L1251.7,474.7 L1255.1,474.9 L1258.9,475.1 L1263,475.3 L1267.2,475.5 L1271.5,475.7 L1275.6,475.9 L1279.3,476.1 L1282.8,476.3 L1286.4,476.5 L1290.2,476.7 L1294.8,476.9 L1300.3,477.1 L1307.6,477.3 L1318.3,477.5 L1331.5,477.7 L1349.1,477.9 L1371,478.1 L1395.9,478.3 L1422.4,478.5 L1449.2,478.7 L1475.1,478.9 L1498.5,479.1 L1520.1,479.3 L1541.2,479.5 L1561.8,479.7 L1581.9,479.9 L1601.6,480.1 L1620.8,480.3 L1589.2,480.5 L1556.1,480.7 L1521.6,480.9 L1483.4,481.1 L1439.9,481.3 L1398.5,481.5 L1366.6,481.7 L1346.6,481.9 L1335.3,482.1 L1328,482.3 L1322.2,482.5 L1316.1,482.7 L1309.3,482.9 L1302.5,483.1 L1296.5,483.3 L1292.2,483.5 L1288.6,483.8 L1285.5,484 L1282.7,484.2 L1280.2,484.4 L1278,484.6 L1275.9,484.8 L1273.9,485 L1272.1,485.2 L1270.5,485.4 L1269,485.6 L1267.7,485.8 L1266.5,486 L1265.4,486.2 L1264.6,486.4 L1264,486.6 L1263.6,486.8 L1263.3,487 L1263.1,487.2 L1263.2,487.4 L1263.3,487.6 L1263.6,487.8 L1263.9,488 L1264.4,488.2 L1264.9,488.4 L1265.5,488.6 L1266.2,488.9 L1267.3,489.1 L1269,489.3 L1270.6,489.5 L1272.5,489.7 L1278,489.9 L1288.6,490.1 L1298.3,490.3 L1306.7,490.5 L1306.5,490.8 L1304.4,490.9 L1302.4,491 L1300.3,491 L1298.3,491.1 L1296.2,491.2 L1294.2,491.3 L1292.1,491.4 L1290,491.5 L1288,491.5 L1285.9,491.6 L1283.9,491.7 L1281.8,491.8 L1279.8,491.9 L1277.7,492 L1275.7,492.1 L1273.6,492.1 L1271.5,492.2 L1269.5,492.3 L1267.4,492.4 L1265.4,492.5 L1263.3,492.6 L1261.3,492.6 L1259.2,492.7 L1257.1,492.8 L1255.1,492.9 L1253,493 L1251,493.1 L1248.9,493.1 L1246.9,493.2 L1244.8,493.3 L1242.7,493.4 L1240.7,493.4 L1238.6,493.5 L1236.6,493.6 L1234.5,493.7 L1232.5,493.8 L1230.4,493.9 L1228.3,494 L1226.3,494.1 L1224.2,494.2 L1222.2,494.3 L1220.1,494.4 L1218.1,494.5 L1216,494.6 L1213.9,494.8 L1211.9,494.9 L1209.8,495.1 L1207.8,495.3 L1205.7,495.6 L1203.7,495.8 L1201.6,496.3 L1199.6,497 L1198,498 L1196.6,499.8 L1196.3,501.7 L1196.3,503.6 L1196.3,505.6 L1196.3,507.8 L1196.3,510 L1196.3,510 L1196.3,634 L1196.3,634 L1197.1,637.5 L1198.5,640.7 L1200.4,643.8 L1203,646.1 L1206.1,647.9 L1209.4,649.1 L1212.8,650 L1216.4,650.7 L1219.8,651.2 L1223.4,651.6 L1226.9,652 L1230.4,652.3 L1234,652.7 L1237.5,653.1 L1241,653.4 L1244.5,653.8 L1248,654.2 L1251.6,654.5 L1255.1,654.8 L1258.6,655.1 L1262.2,655.4 L1265.7,655.6 L1269.2,655.9 L1272.8,656.1 L1276.3,656.4 L1279.8,656.6 L1283.4,656.8 L1286.9,657.1 L1290.4,657.3 L1294,657.5 L1297.5,657.7 L1301.1,657.9 L1304.6,658.1 L1308.1,658.3 L1311.7,658.5 L1315.2,658.7 L1318.7,658.9 L1322.3,659.1 L1325.8,659.3 L1329.4,659.5 L1332.9,659.6 L1336.4,659.8 L1340,660 L1343.5,660.2 L1347,660.4 L1350.6,660.6 L1354.1,660.7 L1357.7,660.9 L1361.2,661.1 L1364.7,661.3 L1368.3,661.4 L1371.8,661.6 L1375.4,661.8 L1378.9,662 L1382.4,662.1 L1386,662.3 L1389.5,662.4 L1393,662.6 L1396.6,662.8 L1400.1,662.9 L1403.7,663.1 L1407.2,663.2 L1410.7,663.4 L1414.3,663.6 L1417.8,663.7 L1421.4,663.9 L1424.9,664 L1428.4,664.2 L1432,664.3 L1435.5,664.5 L1439.1,664.6 L1442.6,664.8 L1446.1,664.9 L1449.7,665.1 L1453.2,665.2 L1456.8,665.4 L1460.3,665.5 L1463.8,665.6 L1467.4,665.8 L1470.9,665.9 L1474.5,666.1 L1478,666.2 L1481.5,666.3 L1485.1,666.5 L1488.6,666.6 L1492.2,666.7 L1495.7,666.9 L1499.2,667 L1502.8,667.2 L1506.3,667.3 L1509.9,667.4 L1513.4,667.6 L1516.9,667.7 L1520.5,667.8 L1524,667.9 L1527.6,668 L1531.1,668.1 L1534.7,668.2 L1538.2,668.3 L1541.8,668.4 L1545.3,668.5 L1548.9,668.6 L1552.4,668.7 L1556,668.8 L1559.5,669 L1563,669.2 L1566.6,669.3 L1570.1,669.5 L1573.6,669.8 L1577.1,670.1 L1580.7,670.7 L1583.9,672 L1587,673.6 L1590.3,674.7 L1593.7,675.8 L1597.2,676.7 L1600.7,677.4 L1604.2,678.1 L1607.7,678.6 L1611.2,679 L1614.7,679.4 L1618.2,679.8 L1621.7,680.1 L1625.3,680.4 L1628.8,680.7 L1632.3,680.9 L1635.9,681.2 L1639.4,681.5 L1643,681.7 L1646.5,682 L1650,682.4 L1653.6,682.7 L1657.1,683.1 L1660.6,683.5 L1664.1,683.9 L1667.6,684.3 L1671.2,684.7 L1674.7,685.2 L1678.2,685.6 L1677.7,685.6 L1676,685.8 L1674.4,686 L1672.7,686.2 L1671,686.4 L1669.3,686.6 L1667.5,686.8 L1665.7,687 L1663.9,687.2 L1662,687.4 L1660,687.6 L1657.9,687.8 L1655.9,688 L1653.8,688.2 L1651.8,688.4 L1649.8,688.6 L1647.9,688.8 L1646.1,689 L1644.4,689.2 L1642.7,689.4 L1641.1,689.7 L1639.5,689.9 L1637.9,690.1 L1636.4,690.3 L1634.9,690.5 L1633.5,690.7 L1632.2,690.9 L1630.9,691.1 L1629.6,691.3 L1628.4,691.5 L1627.3,691.7 L1626.1,691.9 L1625.1,692.1 L1624.1,692.3 L1623.2,692.5 L1622.2,692.7 L1621.4,692.9 L1621,693.1 L1620.7,693.3 L1620.5,693.5 L1620.7,693.7 L1621,693.9 L1621.4,694.1 L1622.1,694.3 L1623.1,694.5 L1624.1,694.7 L1625.1,694.9 L1626.2,695.1 L1627.3,695.3 L1628.5,695.5 L1629.8,695.7 L1631.1,695.9 L1632.4,696.1 L1633.8,696.3 L1635.2,696.5 L1636.6,696.7 L1638.2,696.9 L1639.7,697.1 L1641.4,697.3 L1643,697.5 L1644.8,697.7 L1646.5,698 L1648.3,698.2 L1650.1,698.4 L1652,698.6 L1653.9,698.8 L1656,699 L1658.1,699.2 L1660.3,699.4 L1662.5,699.6 L1664.7,699.8 L1666.9,700 L1669.1,700.2 L1671.2,700.4 L1673.3,700.6 L1675.3,700.8 L1677.2,701 L1679.1,701.2 L1681,701.4 L1682.9,701.6 L1684.7,701.8 L1686.5,702 L1688.3,702.2 L1690,702.4 L1686.9,702.6 L1683.9,702.8 L1680.7,703 L1677.6,703.2 L1674.4,703.4 L1671.1,703.6 L1667.8,703.8 L1664.5,704 L1661.2,704.2 L1657.8,704.4 L1654.4,704.6 L1650.9,704.8 L1647.4,705 L1643.8,705.2 L1640,705.4 L1636.2,705.6 L1632.3,705.8 L1628.4,706 L1624.5,706.2 L1620.6,706.4 L1616.7,706.6 L1612.9,706.8 L1609.1,707 L1605.5,707.2 L1601.9,707.4 L1598.5,707.6 L1595.2,707.8 L1592,708 L1588.8,708.2 L1585.6,708.4 L1582.5,708.7 L1579.4,708.9 L1576.4,709.1 L1573.4,709.3 L1570.5,709.5 L1567.6,709.7 L1564.9,709.9 L1562.1,710.1 L1559.5,710.3 L1556.9,710.5 L1554.4,710.7 L1552,710.9 L1549.6,711.1 L1547.2,711.3 L1544.9,711.5 L1542.7,711.7 L1540.5,711.9 L1538.4,712.1 L1536.3,712.3 L1534.3,712.5 L1532.4,712.7 L1530.6,712.9 L1528.8,713.1 L1527,713.3 L1525.3,713.5 L1523.8,713.7 L1522.7,713.9 L1522,714.1 L1521.4,714.3 L1520.9,714.5 L1520.8,714.7 L1520.9,714.9 L1521.4,715.1 L1522,715.3 L1522.8,715.5 L1523.9,715.7 L1525.4,715.9 L1527.2,716.1 L1529.1,716.3 L1530.9,716.5 L1532.8,716.7 L1534.7,716.9 L1536.7,717.1 L1538.8,717.3 L1541,717.5 L1543.2,717.7 L1545.5,717.9 L1547.9,718.1 L1550.3,718.3 L1552.8,718.5 L1555.3,718.7 L1557.8,718.9 L1560.5,719.1 L1563.2,719.3 L1566,719.5 L1568.8,719.7 L1571.7,719.9 L1574.7,720.1 L1577.8,720.3 L1580.9,720.5 L1584,720.8 L1587.2,721 L1590.5,721.2 L1593.8,721.4 L1597.1,721.6 L1600.5,721.8 L1604.1,722 L1607.7,722.2 L1611.5,722.4 L1615.4,722.6 L1619.3,722.8 L1623.3,723 L1627.3,723.2 L1631.2,723.4 L1635.2,723.6 L1639.1,723.8 L1642.9,724 L1646.6,724.2 L1650.2,724.4 L1653.7,724.6 L1657.2,724.8 L1660.7,725 L1664.1,725.2 L1667.5,725.4 L1670.8,725.6 L1674.1,725.8 L1677.3,726 L1680.6,726.2 L1683.7,726.4 L1686.9,726.6 L1690,726.8 L1686.4,727 L1682.8,727.2 L1679.1,727.4 L1675.3,727.6 L1671.6,727.8 L1667.7,728 L1663.9,728.2 L1659.9,728.4 L1656,728.6 L1651.9,728.8 L1647.9,729 L1643.7,729.2 L1639.4,729.4 L1635,729.6 L1630.4,729.8 L1625.9,730 L1621.3,730.2 L1616.7,730.4 L1612.1,730.6 L1607.6,730.8 L1603.2,731 L1599,731.2 L1594.9,731.4 L1591,731.6 L1587.1,731.8 L1583.3,732 L1579.6,732.2 L1575.9,732.5 L1572.3,732.7 L1568.8,732.9 L1565.3,733.1 L1561.9,733.3 L1558.6,733.5 L1555.4,733.7 L1552.3,733.9 L1549.3,734.1 L1546.3,734.3 L1543.5,734.5 L1540.6,734.7 L1537.9,734.9 L1535.2,735.1 L1532.6,735.3 L1530.1,735.5 L1527.7,735.7 L1525.3,735.9 L1523.1,736.1 L1521,736.3 L1518.8,736.5 L1516.7,736.7 L1514.8,736.9 L1513.3,737.1 L1512.3,737.3 L1511.5,737.5 L1511,737.7 L1510.8,737.9 L1511,738.1 L1511.5,738.3 L1512.3,738.5 L1513.2,738.7 L1514.6,738.9 L1516.5,739.1 L1518.5,739.3 L1520.7,739.5 L1522.8,739.7 L1524.9,739.9 L1527.2,740.1 L1529.6,740.3 L1532,740.5 L1534.5,740.8 L1537.2,741 L1539.8,741.2 L1542.6,741.4 L1545.4,741.6 L1548.3,741.8 L1551.2,742 L1554.2,742.2 L1557.4,742.4 L1560.6,742.6 L1563.9,742.8 L1567.2,743 L1570.7,743.2 L1574.2,743.4 L1577.8,743.6 L1581.4,743.8 L1585.1,744 L1588.8,744.2 L1592.6,744.4 L1596.5,744.6 L1600.6,744.8 L1604.9,745 L1609.2,745.2 L1613.7,745.4 L1618.1,745.6 L1622.7,745.8 L1627.2,746 L1631.7,746.2 L1636.1,746.4 L1640.4,746.7 L1644.6,746.9 L1648.7,747.1 L1652.7,747.3 L1656.6,747.5 L1660.5,747.7 L1664.3,747.9 L1668.1,748.1 L1671.9,748.3 L1675.6,748.5 L1679.3,748.7 L1682.9,748.9 L1686.5,749.1 L1690,749.3 L1686.6,749.5 L1683.1,749.7 L1679.6,749.9 L1676,750.1 L1672.4,750.3 L1668.8,750.5 L1665.1,750.7 L1661.4,750.9 L1657.6,751.1 L1653.8,751.3 L1650,751.5 L1646.2,751.7 L1642.3,751.9 L1638.3,752.1 L1634.2,752.3 L1630,752.5 L1625.7,752.7 L1621.4,752.9 L1617,753.1 L1612.6,753.3 L1608.2,753.5 L1603.8,753.7 L1599.4,753.9 L1595.1,754.1 L1590.9,754.3 L1586.8,754.5 L1582.8,754.7 L1578.9,754.9 L1575.2,755.1 L1571.5,755.3 L1567.9,755.5 L1564.3,755.7 L1560.7,755.9 L1557.2,756.1 L1553.8,756.3 L1550.4,756.5 L1547.1,756.7 L1543.8,756.9 L1540.6,757.1 L1537.5,757.3 L1534.4,757.5 L1531.4,757.7 L1528.5,757.9 L1525.7,758.1 L1522.9,758.3 L1520.1,758.5 L1517.4,758.7 L1514.8,758.9 L1512.2,759.1 L1509.7,759.3 L1507.3,759.5 L1504.9,759.7 L1502.6,759.9 L1500.3,760.1 L1498.2,760.3 L1496.1,760.5 L1494.1,760.7 L1492,760.9 L1490,761.1 L1488.2,761.3 L1486.7,761.5 L1485.6,761.7 L1484.9,761.9 L1484.2,762.1 L1483.7,762.3 L1483.5,762.5 L1483.8,762.7 L1484.4,762.9 L1485.1,763.1 L1486.1,763.3 L1487.5,763.5 L1489.5,763.7 L1491.7,763.9 L1494,764.1 L1496.3,764.3 L1498.6,764.5 L1501,764.7 L1503.5,764.9 L1506.2,765.1 L1508.9,765.3 L1511.7,765.5 L1514.5,765.7 L1517.5,765.9 L1520.5,766.1 L1523.6,766.3 L1526.7,766.5 L1529.9,766.7 L1533.2,766.9 L1536.6,767.1 L1540.1,767.3 L1543.7,767.5 L1547.3,767.7 L1551.1,767.9 L1554.9,768.1 L1558.8,768.3 L1562.7,768.6 L1566.7,768.8 L1570.8,769 L1574.9,769.2 L1579,769.4 L1583.4,769.6 L1587.9,769.8 L1592.5,770 L1597.3,770.2 L1602.2,770.4 L1607.1,770.6 L1612,770.8 L1616.9,771 L1621.8,771.2 L1626.7,771.4 L1631.5,771.6 L1636.1,771.8 L1640.6,772 L1645,772.2 L1649.3,772.4 L1653.6,772.6 L1657.8,772.8 L1662,773 L1666.2,773.2 L1670.2,773.4 L1674.3,773.6 L1678.3,773.8 L1682.2,774 L1686.1,774.2 L1690,774.4 L1686,774.6 L1681.9,774.8 L1677.8,775 L1673.6,775.2 L1669.4,775.4 L1665.1,775.6 L1660.8,775.8 L1656.4,776 L1652,776.2 L1647.5,776.4 L1643,776.6 L1638.5,776.8 L1633.8,777 L1629,777.2 L1624.1,777.4 L1619.1,777.6 L1614,777.8 L1608.8,778 L1603.6,778.2 L1598.5,778.4 L1593.4,778.6 L1588.3,778.8 L1583.4,779 L1578.5,779.2 L1573.8,779.4 L1569.3,779.6 L1565,779.8 L1560.7,780 L1556.5,780.2 L1552.3,780.4 L1548.1,780.7 L1544.1,780.9 L1540.1,781.1 L1536.2,781.3 L1532.4,781.5 L1528.6,781.7 L1524.9,781.9 L1521.4,782.1 L1517.9,782.3 L1514.5,782.5 L1511.2,782.7 L1508,782.9 L1504.8,783.1 L1501.7,783.3 L1498.6,783.5 L1495.7,783.7 L1492.8,783.9 L1490,784.1 L1487.3,784.3 L1484.7,784.5 L1482.2,784.7 L1479.8,784.9 L1477.4,785.1 L1475,785.3 L1472.7,785.5 L1470.8,785.7 L1469.3,785.9 L1468.4,786.1 L1467.6,786.3 L1467,786.5 L1466.8,786.7 L1467,786.9 L1467.5,787.1 L1468.3,787.3 L1469.2,787.5 L1470.5,787.7 L1472.3,787.9 L1474.4,788.1 L1476.8,788.3 L1479.1,788.5 L1481.4,788.7 L1483.8,788.9 L1486.3,789.1 L1488.8,789.3 L1491.5,789.5 L1494.3,789.7 L1497.1,789.9 L1500,790.1 L1503,790.3 L1506,790.5 L1509.1,790.7 L1512.3,790.9 L1515.5,791.1 L1518.8,791.3 L1522.2,791.5 L1525.7,791.7 L1529.2,791.9 L1532.9,792.1 L1536.6,792.3 L1540.4,792.5 L1544.3,792.7 L1548.2,792.9 L1552.2,793.2 L1556.3,793.4 L1560.4,793.6 L1564.5,793.8 L1568.7,794 L1573,794.2 L1577.5,794.4 L1582.2,794.6 L1587,794.8 L1591.8,795 L1596.8,795.2 L1601.8,795.4 L1606.8,795.6 L1611.7,795.8 L1616.7,796 L1621.6,796.2 L1626.4,796.4 L1631.2,796.6 L1635.7,796.8 L1640.2,797 L1644.6,797.2 L1648.9,797.4 L1653.2,797.6 L1657.5,797.8 L1661.7,798 L1665.9,798.2 L1670,798.4 L1674.1,798.6 L1678.2,798.8 L1682.1,799 L1686.1,799.2 L1690,799.4 L1686,799.6 L1682,799.8 L1677.9,800 L1673.7,800.2 L1669.6,800.4 L1665.3,800.6 L1661.1,800.8 L1656.8,801 L1652.4,801.2 L1648,801.4 L1643.5,801.6 L1639,801.8 L1634.5,802 L1629.8,802.2 L1625,802.4 L1620,802.6 L1615,802.8 L1609.9,803 L1604.8,803.2 L1599.7,803.4 L1594.6,803.6 L1589.5,803.8 L1584.6,804 L1579.7,804.2 L1574.9,804.4 L1570.3,804.6 L1565.9,804.8 L1561.6,805 L1557.3,805.2 L1553.1,805.4 L1549,805.6 L1544.9,805.8 L1540.9,806 L1536.9,806.2 L1533,806.4 L1529.2,806.6 L1525.5,806.8 L1521.9,807 L1518.3,807.2 L1514.8,807.4 L1511.4,807.6 L1508.2,807.8 L1504.9,808 L1501.8,808.2 L1498.6,808.4 L1495.6,808.6 L1492.6,808.8 L1489.7,809 L1486.9,809.2 L1484.2,809.4 L1481.5,809.6 L1479,809.8 L1476.5,810 L1474.2,810.2 L1471.8,810.4 L1469.4,810.6 L1467.2,810.8 L1465.4,811 L1464,811.2 L1463.1,811.4 L1462.3,811.6 L1461.8,811.8 L1461.5,812 L1461.8,812.2 L1462.4,812.4 L1463.2,812.6 L1464.1,812.8 L1465.5,813 L1467.4,813.2 L1469.7,813.4 L1472.1,813.6 L1474.5,813.8 L1476.9,814 L1479.4,814.2 L1482,814.4 L1484.7,814.6 L1487.5,814.8 L1490.4,815 L1493.4,815.2 L1496.4,815.4 L1499.5,815.6 L1502.7,815.8 L1506,816 L1509.3,816.2 L1512.6,816.4 L1516.1,816.6 L1519.7,816.8 L1523.3,817 L1527.1,817.2 L1530.9,817.4 L1534.8,817.6 L1538.8,817.8 L1542.8,818 L1546.9,818.2 L1551.1,818.5 L1555.4,818.7 L1559.7,818.9 L1564,819.1 L1568.4,819.3 L1573,819.5 L1577.8,819.7 L1582.7,819.9 L1587.8,820.1 L1592.9,820.3 L1598,820.5 L1603.2,820.7 L1608.4,820.9 L1613.6,821.1 L1618.7,821.3 L1623.8,821.5 L1628.7,821.7 L1633.5,821.9 L1638.2,822.1 L1642.7,822.3 L1647.3,822.5 L1651.8,822.7 L1656.2,822.9 L1660.6,823.1 L1664.9,823.3 L1669.2,823.5 L1673.5,823.7 L1677.7,823.9 L1681.8,824.1 L1685.9,824.3 L1690,824.5 L1685.9,824.7 L1681.7,824.9 L1677.5,825.1 L1673.2,825.3 L1668.9,825.5 L1664.5,825.7 L1660.1,825.9 L1655.7,826.1 L1651.2,826.3 L1646.6,826.5 L1642.1,826.7 L1637.4,826.9 L1632.7,827.1 L1627.9,827.3 L1623,827.5 L1617.9,827.7 L1612.7,827.9 L1607.5,828.1 L1602.2,828.3 L1596.9,828.5 L1591.7,828.7 L1586.4,828.9 L1581.3,829.1 L1576.2,829.3 L1571.2,829.5 L1566.4,829.7 L1561.7,829.9 L1557.3,830.1 L1552.8,830.3 L1548.5,830.5 L1544.2,830.7 L1539.9,831 L1535.7,831.2 L1531.6,831.4 L1527.6,831.6 L1523.6,831.8 L1519.7,832 L1515.9,832.2 L1512.1,832.4 L1508.5,832.6 L1504.9,832.8 L1501.5,833 L1498.1,833.2 L1494.8,833.4 L1491.5,833.6 L1488.3,833.8 L1485.2,834 L1482.2,834.2 L1479.2,834.4 L1476.3,834.6 L1473.5,834.8 L1470.8,835 L1468.2,835.2 L1465.7,835.4 L1463.3,835.6 L1460.8,835.8 L1458.3,836 L1456.1,836.2 L1454.2,836.4 L1452.9,836.6 L1452,836.8 L1451.2,837 L1450.6,837.2 L1450.3,837.4 L1450.6,837.6 L1451.2,837.8 L1452.1,838 L1453.1,838.2 L1454.7,838.4 L1456.7,838.6 L1459.2,838.8 L1461.8,839 L1464.4,839.2 L1466.9,839.4 L1469.6,839.6 L1472.4,839.8 L1475.3,840 L1478.3,840.2 L1481.4,840.4 L1484.6,840.6 L1487.8,840.8 L1491.2,841 L1494.6,841.2 L1498.1,841.4 L1501.6,841.6 L1505.2,841.8 L1509,842 L1512.8,842.2 L1516.7,842.4 L1520.8,842.6 L1524.9,842.8 L1529.1,843 L1533.4,843.2 L1537.7,843.4 L1542.2,843.6 L1546.6,843.8 L1551.2,844 L1555.8,844.2 L1560.5,844.4 L1565.3,844.6 L1570.3,844.8 L1575.5,845 L1580.8,845.2 L1586.3,845.4 L1591.8,845.6 L1597.3,845.8 L1602.8,846 L1608.4,846.2 L1613.8,846.4 L1619.2,846.6 L1624.5,846.8 L1629.7,847 L1634.7,847.2 L1639.6,847.4 L1644.4,847.6 L1649.2,847.8 L1653.9,848 L1658.6,848.2 L1663.3,848.4 L1667.8,848.6 L1672.4,848.8 L1676.9,849 L1681.3,849.2 L1685.7,849.4 L1690,849.6 L1685.8,849.8 L1681.6,850 L1677.3,850.2 L1673,850.4 L1668.6,850.6 L1664.2,850.8 L1659.7,851 L1655.2,851.2 L1650.7,851.4 L1646.1,851.6 L1641.4,851.8 L1636.7,852 L1631.9,852.2 L1627,852.4 L1622,852.6 L1616.8,852.8 L1611.6,853 L1606.2,853.2 L1600.9,853.4 L1595.5,853.6 L1590.2,853.8 L1584.9,854 L1579.7,854.2 L1574.6,854.4 L1569.6,854.6 L1564.8,854.8 L1560.2,855 L1555.7,855.2 L1551.2,855.4 L1546.8,855.6 L1542.5,855.8 L1538.2,856 L1534,856.2 L1529.9,856.4 L1525.8,856.6 L1521.8,856.8 L1517.9,857 L1514.1,857.2 L1510.4,857.4 L1506.8,857.6 L1503.2,857.8 L1499.8,858 L1496.4,858.2 L1493.1,858.4 L1489.8,858.6 L1486.7,858.8 L1483.5,859 L1480.5,859.2 L1477.6,859.4 L1474.7,859.6 L1471.9,859.8 L1469.3,860 L1466.7,860.2 L1464.3,860.4 L1461.8,860.6 L1459.3,860.8 L1457,861 L1455.1,861.2 L1453.7,861.4 L1452.7,861.6 L1451.9,861.8 L1451.3,862 L1451,862.2 L1451.3,862.4 L1452,862.6 L1452.9,862.8 L1453.9,863 L1455.5,863.2 L1457.6,863.4 L1460.1,863.6 L1462.8,863.8 L1465.4,864 L1468,864.2 L1470.7,864.4 L1473.6,864.6 L1476.5,864.8 L1479.6,865 L1482.8,865.2 L1486,865.4 L1489.4,865.6 L1492.8,865.8 L1496.3,866 L1499.8,866.2 L1503.4,866.4 L1507.1,866.6 L1511,866.8 L1514.9,867 L1518.9,867.2 L1523,867.4 L1527.2,867.6 L1531.5,867.8 L1535.9,868 L1540.4,868.2 L1544.9,868.4 L1549.5,868.6 L1554.1,868.8 L1558.8,869 L1563.6,869.2 L1568.7,869.4 L1573.9,869.6 L1579.2,869.8 L1584.7,870 L1590.2,870.2 L1595.8,870.4 L1601.4,870.6 L1607,870.8 L1612.6,871 L1618.1,871.2 L1623.5,871.4 L1628.8,871.6 L1633.8,871.8 L1638.8,872 L1643.7,872.2 L1648.6,872.4 L1653.4,872.6 L1658.2,872.8 L1662.9,873 L1667.5,873.2 L1672.1,873.4 L1676.7,873.6 L1681.2,873.8 L1685.6,874 L1690,874.2 L1686.1,874.4 L1682.1,874.6 L1678,874.8 L1674,875 L1669.9,875.2 L1665.7,875.4 L1661.5,875.6 L1657.3,875.8 L1653,876 L1648.6,876.2 L1644.3,876.4 L1639.9,876.6 L1635.4,876.8 L1630.9,877 L1626.3,877.2 L1621.6,877.4 L1616.7,877.7 L1611.8,877.9 L1606.8,878.1 L1601.7,878.3 L1596.7,878.5 L1591.6,878.7 L1586.6,878.9 L1581.6,879.1 L1576.7,879.3 L1571.9,879.5 L1567.2,879.7 L1562.6,879.9 L1558.2,880.1 L1554,880.3 L1549.8,880.5 L1545.6,880.7 L1541.5,880.9 L1537.4,881.1 L1533.4,881.3 L1529.5,881.5 L1525.6,881.7 L1521.8,881.9 L1518,882.1 L1514.3,882.3 L1510.7,882.5 L1507.2,882.7 L1503.8,882.9 L1500.4,883.1 L1497.1,883.3 L1493.9,883.5 L1490.8,883.7 L1487.7,883.9 L1484.6,884.1 L1481.6,884.3 L1478.7,884.5 L1475.8,884.8 L1473.1,885 L1470.4,885.2 L1467.8,885.4 L1465.3,885.6 L1462.8,885.8 L1460.5,886 L1458.1,886.2 L1455.8,886.4 L1453.5,886.6 L1451.5,886.8 L1449.8,887 L1448.7,887.2 L1447.8,887.4 L1447.1,887.6 L1446.6,887.8 L1446.3,888 L1446.5,888.2 L1447,888.4 L1447.6,888.6 L1448.3,888.8 L1449.2,889 L1450.4,889.2 L1452,889.4 L1453.8,889.6 L1455.9,889.8 L1458,890 L1460.1,890.2 L1462.2,890.4 L1464.4,890.6 L1466.6,890.8 L1468.9,891 L1471.2,891.2 L1473.6,891.4 L1476.1,891.6 L1478.7,891.8 L1481.3,892 L1484,892.2 L1486.7,892.4 L1489.4,892.6 L1492.3,892.8 L1495.1,893 L1498,893.2 L1500.9,893.4 L1503.9,893.6 L1507,893.8 L1510.2,894 L1513.4,894.2 L1516.6,894.4 L1520,894.6 L1523.4,894.8 L1526.8,895 L1530.3,895.2 L1533.8,895.4 L1537.4,895.6 L1541.1,895.8 L1544.7,896 L1548.5,896.2 L1552.2,896.4 L1556,896.6 L1559.8,896.8 L1563.8,897 L1567.9,897.2 L1572.1,897.4 L1576.4,897.6 L1580.8,897.8 L1585.3,898 L1589.7,898.2 L1594.3,898.4 L1598.8,898.6 L1603.3,898.8 L1607.8,899 L1612.3,899.2 L1616.7,899.4 L1621,899.6 L1625.3,899.8 L1629.5,900 L1633.5,900.2 L1637.5,900.4 L1641.5,900.6 L1645.4,900.8 L1649.3,901 L1653.2,901.2 L1657,901.4 L1660.8,901.6 L1664.6,901.8 L1668.3,902 L1672,902.2 L1675.7,902.4 L1679.3,902.6 L1682.9,902.8 L1686.5,903 L1690,903.2"/>
</g>
<path d="M1196.7,901.0V13.0" stroke="#444" stroke-width="1.2" fill="none"/>
<path d="M1690.0,13.0V901.0" stroke="#000" stroke-width="1.5" fill="none"/>
<path d="M1196.1000000000001,13.0H1690.6M1196.1000000000001,901.0H1690.6" stroke="#000" stroke-width="1.3" fill="none"/>
<g id="ticklabels">
<text transform="translate(87.2,910.2) scale(1.0,1.05)" font-family="'Liberation Sans', Arial, Helvetica, sans-serif" font-size="31.0" fill="#000" text-anchor="end" font-weight="bold">0</text>
<text transform="translate(86.4,764.56) scale(1.0,1.05)" font-family="'Liberation Sans', Arial, Helvetica, sans-serif" font-size="31.0" fill="#000" text-anchor="end" font-weight="bold" letter-spacing="-0.8">0.1</text>
<text transform="translate(86.4,618.92) scale(1.0,1.05)" font-family="'Liberation Sans', Arial, Helvetica, sans-serif" font-size="31.0" fill="#000" text-anchor="end" font-weight="bold" letter-spacing="-0.8">0.2</text>
<text transform="translate(86.4,473.28) scale(1.0,1.05)" font-family="'Liberation Sans', Arial, Helvetica, sans-serif" font-size="31.0" fill="#000" text-anchor="end" font-weight="bold" letter-spacing="-0.8">0.3</text>
<text transform="translate(86.4,327.64) scale(1.0,1.05)" font-family="'Liberation Sans', Arial, Helvetica, sans-serif" font-size="31.0" fill="#000" text-anchor="end" font-weight="bold" letter-spacing="-0.8">0.4</text>
<text transform="translate(86.4,182) scale(1.0,1.05)" font-family="'Liberation Sans', Arial, Helvetica, sans-serif" font-size="31.0" fill="#000" text-anchor="end" font-weight="bold" letter-spacing="-0.8">0.5</text>
<text transform="translate(86.4,36.36) scale(1.0,1.05)" font-family="'Liberation Sans', Arial, Helvetica, sans-serif" font-size="31.0" fill="#000" text-anchor="end" font-weight="bold" letter-spacing="-0.8">0.6</text>
<text transform="translate(86.35,933.2) scale(1.0,1.04)" font-family="'Liberation Sans', Arial, Helvetica, sans-serif" font-size="31.0" fill="#000" text-anchor="middle" font-weight="bold">-0.5</text>
<text transform="translate(336.4,933.2) scale(1.0,1.04)" font-family="'Liberation Sans', Arial, Helvetica, sans-serif" font-size="31.0" fill="#000" text-anchor="middle" font-weight="bold">0</text>
<text transform="translate(581.9,933.2) scale(1.0,1.04)" font-family="'Liberation Sans', Arial, Helvetica, sans-serif" font-size="31.0" fill="#000" text-anchor="middle" font-weight="bold">0.5</text>
<text transform="translate(648.55,933.2) scale(1.0,1.04)" font-family="'Liberation Sans', Arial, Helvetica, sans-serif" font-size="31.0" fill="#000" text-anchor="middle" font-weight="bold">-0.5</text>
<text transform="translate(899,933.2) scale(1.0,1.04)" font-family="'Liberation Sans', Arial, Helvetica, sans-serif" font-size="31.0" fill="#000" text-anchor="middle" font-weight="bold">0</text>
<text transform="translate(1144.8,933.2) scale(1.0,1.04)" font-family="'Liberation Sans', Arial, Helvetica, sans-serif" font-size="31.0" fill="#000" text-anchor="middle" font-weight="bold">0.5</text>
<text transform="translate(1195.6,933.2) scale(1.0,1.04)" font-family="'Liberation Sans', Arial, Helvetica, sans-serif" font-size="31.0" fill="#000" text-anchor="middle" font-weight="bold">0</text>
<text transform="translate(1443.5,933.2) scale(1.0,1.04)" font-family="'Liberation Sans', Arial, Helvetica, sans-serif" font-size="31.0" fill="#000" text-anchor="middle" font-weight="bold">0.5</text>
<text transform="translate(1688.5,933.2) scale(1.0,1.04)" font-family="'Liberation Sans', Arial, Helvetica, sans-serif" font-size="31.0" fill="#000" text-anchor="middle" font-weight="bold">1</text>
</g>
<g id="axislabels">
<text transform="translate(275.6,971.2)" font-family="'Liberation Sans', Arial, Helvetica, sans-serif" font-size="37.0" fill="#000" text-anchor="start" stroke="#000" stroke-width="0.7" stroke-linejoin="round">k</text>
<text transform="translate(296.2,989.8) scale(1.06,1.0)" font-family="'Liberation Sans', Arial, Helvetica, sans-serif" font-size="29.23" fill="#000" text-anchor="start" stroke="#000" stroke-width="0.7" stroke-linejoin="round">B</text>
<text transform="translate(316.9,971.2)" font-family="'Liberation Sans', Arial, Helvetica, sans-serif" font-size="37.0" fill="#000" text-anchor="start" stroke="#000" stroke-width="0.7" stroke-linejoin="round">d/</text>
<text transform="translate(351,971.2)" font-family="'Liberation Sans', Arial, Helvetica, sans-serif" font-size="37.0" fill="#000" text-anchor="start" stroke="#000" stroke-width="0.7" stroke-linejoin="round">2</text>
<text transform="translate(371.8,971.2) scale(1.22,1.0)" font-family="'Liberation Serif', 'DejaVu Serif', serif" font-size="34" fill="#000" text-anchor="start" stroke="#000" stroke-width="0.5" stroke-linejoin="round">π</text>
<text transform="translate(837.6,971.2)" font-family="'Liberation Sans', Arial, Helvetica, sans-serif" font-size="37.0" fill="#000" text-anchor="start" stroke="#000" stroke-width="0.7" stroke-linejoin="round">k</text>
<text transform="translate(858.2,989.8) scale(1.06,1.0)" font-family="'Liberation Sans', Arial, Helvetica, sans-serif" font-size="29.23" fill="#000" text-anchor="start" stroke="#000" stroke-width="0.7" stroke-linejoin="round">B</text>
<text transform="translate(878.9,971.2)" font-family="'Liberation Sans', Arial, Helvetica, sans-serif" font-size="37.0" fill="#000" text-anchor="start" stroke="#000" stroke-width="0.7" stroke-linejoin="round">d/</text>
<text transform="translate(913,971.2)" font-family="'Liberation Sans', Arial, Helvetica, sans-serif" font-size="37.0" fill="#000" text-anchor="start" stroke="#000" stroke-width="0.7" stroke-linejoin="round">2</text>
<text transform="translate(933.8,971.2) scale(1.22,1.0)" font-family="'Liberation Serif', 'DejaVu Serif', serif" font-size="34" fill="#000" text-anchor="start" stroke="#000" stroke-width="0.5" stroke-linejoin="round">π</text>
<text transform="translate(1441.6,971.6)" font-family="'Liberation Sans', Arial, Helvetica, sans-serif" font-size="37.0" fill="#000" text-anchor="middle" stroke="#000" stroke-width="0.7" stroke-linejoin="round">T</text>
<text transform="translate(28.7,484.6) rotate(-90)" font-family="'Liberation Sans', Arial, Helvetica, sans-serif" font-size="38" fill="#000" text-anchor="start" stroke="#000" stroke-width="0.7" stroke-linejoin="round">d</text>
<text transform="translate(28.7,460) rotate(-90)" font-family="'Liberation Sans', Arial, Helvetica, sans-serif" font-size="38" fill="#000" text-anchor="start" stroke="#000" stroke-width="0.7" stroke-linejoin="round">/</text>
<text transform="translate(29.4,451.4) rotate(-90) scale(1.12,1.0)" font-family="'DejaVu Serif', 'Liberation Serif', serif" font-size="32" fill="#000" text-anchor="start" stroke="#000" stroke-width="0.3" stroke-linejoin="round">λ</text>
</g>
<g id="panellabels">
<rect x="106.6" y="812" width="75.6" height="63" fill="#fff"/>
<path d="M106.6,811.2V875.55" stroke="#444" stroke-width="1.1" fill="none"/>
<path d="M182.2,811.2V875.55" stroke="#444" stroke-width="1.1" fill="none"/>
<path d="M106.05,812H182.75" stroke="#000" stroke-width="1.6" fill="none"/>
<path d="M106.05,875H182.75" stroke="#444" stroke-width="1.1" fill="none"/>
<text transform="translate(114.2,852.4) scale(1.04,1.0)" font-family="'Liberation Sans', Arial, Helvetica, sans-serif" font-size="36.5" fill="#000" text-anchor="start" stroke="#000" stroke-width="0.7" stroke-linejoin="round">(a)</text>
<rect x="664.3" y="801.6" width="74.2" height="63.4" fill="#fff"/>
<path d="M664.3,801.0500000000001V866.0" stroke="#888" stroke-width="1.1" fill="none"/>
<path d="M738.5,801.0500000000001V866.0" stroke="#333" stroke-width="1.4" fill="none"/>
<path d="M663.75,801.6H739.2" stroke="#888" stroke-width="1.1" fill="none"/>
<path d="M663.75,865.0H739.2" stroke="#333" stroke-width="2.0" fill="none"/>
<text transform="translate(672.5,842) scale(1.08,1.0)" font-family="'Liberation Sans', Arial, Helvetica, sans-serif" font-size="36.5" fill="#000" text-anchor="start" stroke="#000" stroke-width="1.1" stroke-linejoin="round">(b)</text>
<rect x="1231.6" y="806.6" width="74.2" height="63" fill="#fff"/>
<path d="M1231.6,805.8000000000001V870.4" stroke="#000" stroke-width="1.6" fill="none"/>
<path d="M1305.8,805.8000000000001V870.4" stroke="#000" stroke-width="1.6" fill="none"/>
<path d="M1230.8,806.6H1306.6" stroke="#000" stroke-width="1.6" fill="none"/>
<path d="M1230.8,869.6H1306.6" stroke="#000" stroke-width="1.6" fill="none"/>
<text transform="translate(1239.6,847) scale(1.06,1.0)" font-family="'Liberation Sans', Arial, Helvetica, sans-serif" font-size="36.5" fill="#000" text-anchor="start" font-weight="bold">(c)</text>
</g>
<g id="phases">
<text transform="translate(415.2,71.9) scale(1.0,1.05)" font-family="'Liberation Sans', Arial, Helvetica, sans-serif" font-size="46.8" fill="#ee0a0a" text-anchor="middle" font-weight="bold">0</text>
<text transform="translate(401.5,747.4) scale(1.0,1.05)" font-family="'Liberation Sans', Arial, Helvetica, sans-serif" font-size="46.8" fill="#ee0a0a" text-anchor="middle" font-weight="bold">0</text>
<text transform="translate(953.2,415.8) scale(1.0,1.05)" font-family="'Liberation Sans', Arial, Helvetica, sans-serif" font-size="46.8" fill="#ee0a0a" text-anchor="middle" font-weight="bold">0</text>
<text transform="translate(966.1,757) scale(1.0,1.05)" font-family="'Liberation Sans', Arial, Helvetica, sans-serif" font-size="46.8" fill="#ee0a0a" text-anchor="middle" font-weight="bold">0</text>
<text transform="translate(390.3,414.6)" font-family="'Liberation Serif', 'DejaVu Serif', serif" font-size="48.5" fill="#e30c0c" text-anchor="middle" font-weight="bold">π</text>
<text transform="translate(980.6,69.4)" font-family="'Liberation Serif', 'DejaVu Serif', serif" font-size="48.5" fill="#e30c0c" text-anchor="middle" font-weight="bold">π</text>
</g>
<g id="annotation">
<rect x="1200" y="239" width="174.8" height="4.7" fill="#fff"/>
<text transform="translate(1383.8,290.9) scale(1.12,1.0)" font-family="'DejaVu Serif', 'Liberation Serif', serif" font-size="32" fill="#e30c0c" text-anchor="start" stroke="#e30c0c" stroke-width="0.4" stroke-linejoin="round">λ</text>
<text transform="translate(1404.6,290.7)" font-family="'Liberation Sans', Arial, Helvetica, sans-serif" font-size="38.4" fill="#e30c0c" text-anchor="start" font-weight="bold">=1540 nm</text>
<path d="M1326.5,245.6 L1366,275.2" stroke="#e30c0c" stroke-width="2.7" fill="none"/>
<path d="M1375,281.8 L1358.6,275.6 L1362.6,272.4 L1368.0,265.0 Z" fill="#e30c0c"/>
</g>
</svg>
</body></html>
